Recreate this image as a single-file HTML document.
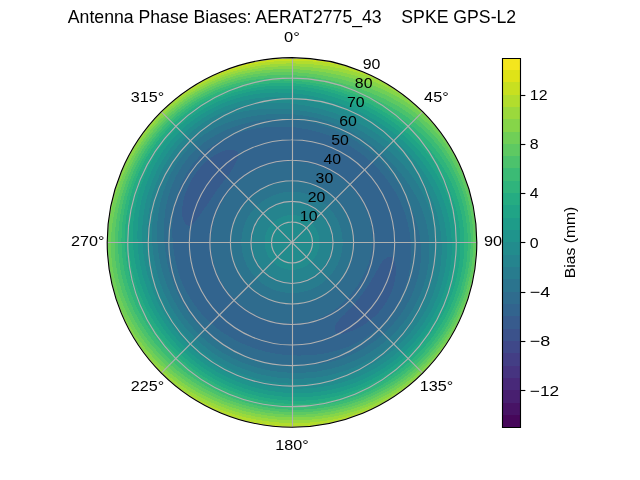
<!DOCTYPE html>
<html><head><meta charset="utf-8"><style>html,body{margin:0;padding:0;background:#fff;width:640px;height:480px;overflow:hidden}svg{display:block;will-change:transform}text{white-space:pre}</style></head><body>
<svg width="640" height="480" viewBox="0 0 460.8 345.6">
<defs>
<style type="text/css">*{stroke-linejoin: round; stroke-linecap: butt}</style>
</defs>
<g id="figure_1">
<g id="patch_1">
<path d="M 0 345.6
L 460.8 345.6
L 460.8 0
L 0 0
z
" style="fill: #ffffff"/>
</g>
<g id="axes_1">
<g id="patch_2">
<path d="M 343.3 174.53
C 343.3 157.06 339.85 139.75 333.17 123.61
C 326.48 107.47 316.68 92.8 304.32 80.44
C 291.97 68.09 277.3 58.29 261.16 51.6
C 245.02 44.91 227.71 41.47 210.24 41.47
C 192.77 41.47 175.46 44.91 159.32 51.6
C 143.18 58.29 128.51 68.09 116.16 80.44
C 103.8 92.8 94 107.47 87.31 123.61
C 80.63 139.75 77.18 157.06 77.18 174.53
C 77.18 192 80.63 209.3 87.31 225.45
C 94 241.59 103.8 256.26 116.16 268.61
C 128.51 280.97 143.18 290.77 159.32 297.46
C 175.46 304.14 192.77 307.58 210.24 307.58
C 227.71 307.58 245.02 304.14 261.16 297.46
C 277.3 290.77 291.97 280.97 304.32 268.61
C 316.68 256.26 326.48 241.59 333.17 225.45
C 339.85 209.3 343.3 192 343.3 174.53
M 210.24 174.53
C 210.24 174.53 210.24 174.53 210.24 174.53
C 210.24 174.53 210.24 174.53 210.24 174.53
C 210.24 174.53 210.24 174.53 210.24 174.53
C 210.24 174.53 210.24 174.53 210.24 174.53
C 210.24 174.53 210.24 174.53 210.24 174.53
C 210.24 174.53 210.24 174.53 210.24 174.53
C 210.24 174.53 210.24 174.53 210.24 174.53
C 210.24 174.53 210.24 174.53 210.24 174.53
C 210.24 174.53 210.24 174.53 210.24 174.53
C 210.24 174.53 210.24 174.53 210.24 174.53
C 210.24 174.53 210.24 174.53 210.24 174.53
C 210.24 174.53 210.24 174.53 210.24 174.53
C 210.24 174.53 210.24 174.53 210.24 174.53
C 210.24 174.53 210.24 174.53 210.24 174.53
C 210.24 174.53 210.24 174.53 210.24 174.53
C 210.24 174.53 210.24 174.53 210.24 174.53
z
" style="fill: #ffffff"/>
</g>
<g id="QuadContourSet_1">
<path clip-path="url(#pe13cb6048f)" style="fill: #46075a; shape-rendering: crispEdges"/>
<path clip-path="url(#pe13cb6048f)" style="fill: #471365; shape-rendering: crispEdges"/>
<path clip-path="url(#pe13cb6048f)" style="fill: #481f70; shape-rendering: crispEdges"/>
<path clip-path="url(#pe13cb6048f)" style="fill: #482979; shape-rendering: crispEdges"/>
<path clip-path="url(#pe13cb6048f)" style="fill: #463480; shape-rendering: crispEdges"/>
<path clip-path="url(#pe13cb6048f)" style="fill: #433e85; shape-rendering: crispEdges"/>
<path clip-path="url(#pe13cb6048f)" style="fill: #3f4889; shape-rendering: crispEdges"/>
<path clip-path="url(#pe13cb6048f)" style="fill: #3b528b; shape-rendering: crispEdges"/>
<path d="M 268.21 200.34
L 266.5 203.19
L 264.73 205.99
L 262.9 208.72
L 261 211.4
L 259.02 214.03
L 256.98 216.61
L 254.85 219.14
L 252.64 221.62
L 251.26 223.09
L 250.35 224.06
L 248 226.5
L 245.55 228.89
L 244.61 229.76
L 243.14 231.52
L 241.72 233.14
L 241.12 235.12
L 241.12 235.13
L 240.87 236.9
L 241.18 238.39
L 242.12 239.58
L 243.8 240.39
L 243.8 240.39
L 247.26 240.21
L 248.04 239.99
L 251.97 238.79
L 252.96 238.45
L 255.78 237.21
L 259.48 235.34
L 260.06 235
L 263.03 233.16
L 266.41 230.7
L 269.38 228.15
L 269.59 227.97
L 272.55 224.99
L 275.26 221.77
L 277.69 218.33
L 279.81 214.69
L 281.59 210.88
L 282.51 208.45
L 283.03 206.94
L 284.1 202.88
L 284.76 198.74
L 284.76 198.74
L 284.96 194.55
L 284.91 192.81
L 284.58 190.33
L 284.28 188.76
L 283.22 186.28
L 282.98 186.05
L 281.92 185
L 280.47 184.72
L 278.89 185.3
L 278.78 185.38
L 277.19 186.47
L 275.32 188.36
L 275.31 188.37
L 273.32 191.43
L 272.88 192.08
L 271.6 194.46
L 269.92 197.44
L 268.69 199.53
z
M 151.13 144.41
L 153.06 141.51
L 155.02 138.67
L 157.02 135.86
L 159.07 133.09
L 161.18 130.35
L 163.33 127.62
L 164.29 126.41
L 165.42 124.75
L 167.15 121.91
L 167.36 121.58
L 169.08 118.54
L 169.28 118.16
L 170.48 115.75
L 171.05 114.18
L 171.34 113.41
L 171.76 111.42
L 171.42 109.89
L 170.28 108.85
L 168.47 108.23
L 167.1 108.11
L 166.17 107.96
L 163.47 108.01
L 162.16 108.36
L 159.43 109.16
L 157.9 109.9
L 154.01 112.08
L 152.75 112.92
L 150.4 114.69
L 147.07 117.65
L 144 120.89
L 141.22 124.38
L 138.74 128.1
L 136.57 131.99
L 134.72 136.05
L 133.2 140.23
L 133.03 140.77
L 132.08 144.52
L 131.3 148.88
L 131.14 150.08
L 131.15 153.34
L 131.23 155.31
L 132 157.9
L 132.09 158.21
L 133.16 160.48
L 134.4 161.92
L 135.8 162.53
L 137.35 162.24
L 139.08 160.98
L 140.26 159.65
L 141.04 158.79
L 142.8 156.46
L 143.35 155.71
L 145.02 153.34
L 146.22 151.57
L 147.12 150.3
L 149.17 147.34
L 150.27 145.73
z
" clip-path="url(#pe13cb6048f)" style="fill: #375b8d; shape-rendering: crispEdges"/>
<path d="M 267.1 183.53
L 266.37 186.46
L 265.48 189.33
L 264.46 192.15
L 263.32 194.9
L 262.05 197.6
L 260.68 200.23
L 259.2 202.8
L 257.62 205.3
L 255.95 207.74
L 254.17 210.11
L 252.3 212.4
L 250.34 214.63
L 248.28 216.77
L 246.11 218.83
L 243.85 220.79
L 241.49 222.65
L 239.03 224.39
L 237.83 225.15
L 236.45 225.98
L 233.78 227.41
L 231.03 228.68
L 228.2 229.79
L 225.3 230.73
L 222.35 231.5
L 219.36 232.09
L 216.33 232.52
L 213.29 232.77
L 210.24 232.86
L 207.19 232.78
L 204.14 232.54
L 201.11 232.15
L 198.11 231.59
L 195.14 230.88
L 192.21 230.01
L 189.33 228.99
L 186.51 227.82
L 183.75 226.51
L 181.07 225.05
L 178.46 223.46
L 175.95 221.73
L 173.52 219.87
L 171.2 217.89
L 168.98 215.79
L 166.88 213.57
L 164.9 211.25
L 163.04 208.82
L 161.31 206.3
L 159.71 203.7
L 158.26 201.01
L 156.94 198.26
L 155.78 195.43
L 154.76 192.55
L 153.89 189.63
L 153.18 186.66
L 152.63 183.65
L 152.23 180.63
L 152 177.58
L 151.92 174.53
L 152.01 171.48
L 152.27 168.43
L 152.68 165.41
L 153.26 162.42
L 154 159.46
L 154.89 156.54
L 155.93 153.68
L 157.12 150.88
L 158.44 148.14
L 159.9 145.47
L 161.5 142.87
L 163.21 140.36
L 165.05 137.93
L 167.01 135.6
L 169.09 133.37
L 171.27 131.25
L 173.57 129.25
L 175.98 127.37
L 178.48 125.62
L 181.07 124
L 183.75 122.53
L 186.5 121.21
L 189.32 120.04
L 192.2 119.01
L 195.13 118.15
L 198.1 117.44
L 201.11 116.88
L 204.14 116.49
L 207.19 116.26
L 210.24 116.18
L 210.24 115.39
L 210.24 113.91
L 210.24 112.44
L 210.24 110.96
L 210.24 109.48
L 210.24 108
L 210.24 106.52
L 210.24 105.04
L 210.24 103.56
L 210.24 102.09
L 210.24 100.61
L 210.24 99.13
L 210.24 97.65
L 210.24 96.17
L 210.24 94.69
L 210.24 93.22
L 210.24 91.74
L 210.24 91.54
L 205.88 91.27
L 201.48 91.16
L 197.79 91.18
L 197.05 91.22
L 192.6 91.52
L 188.13 92
L 185.94 92.3
L 183.65 92.69
L 179.18 93.62
L 175.43 94.55
L 174.72 94.75
L 170.3 96.14
L 165.92 97.76
L 165.51 97.93
L 161.65 99.71
L 157.49 101.92
L 153.85 104.15
L 153.46 104.41
L 149.64 107.22
L 146.01 110.3
L 142.62 113.65
L 139.5 117.24
L 136.65 121.06
L 134.1 125.08
L 131.85 129.27
L 130.04 133.29
L 129.91 133.6
L 128.28 138.03
L 126.94 142.55
L 125.95 146.9
L 125.9 147.12
L 125.09 151.71
L 124.54 156.31
L 124.27 159.77
L 124.21 160.9
L 124.07 165.47
L 124.14 170.02
L 124.39 174.53
L 124.51 176.08
L 124.83 179
L 125.47 183.44
L 126.3 187.82
L 127.33 192.15
L 128.56 196.41
L 130 200.6
L 130.92 202.99
L 131.65 204.69
L 133.53 208.68
L 135.61 212.55
L 137.89 216.3
L 140.35 219.92
L 143 223.38
L 145.82 226.69
L 147.16 228.14
L 148.82 229.83
L 151.99 232.78
L 155.29 235.56
L 158.71 238.16
L 162.24 240.59
L 165.88 242.84
L 168.9 244.55
L 169.6 244.92
L 173.4 246.82
L 177.28 248.55
L 181.23 250.1
L 185.24 251.46
L 189.31 252.65
L 193.42 253.65
L 197.58 254.47
L 201.77 255.1
L 205.99 255.56
L 209.98 255.84
L 210.24 255.85
L 214.51 255.98
L 218.8 255.95
L 223.1 255.74
L 227.42 255.37
L 228.75 255.22
L 231.75 254.79
L 236.06 254
L 240.37 253.02
L 241.9 252.62
L 244.64 251.8
L 248.87 250.34
L 253.03 248.64
L 254.48 247.98
L 257.1 246.68
L 261.06 244.48
L 264.89 242.02
L 268.58 239.32
L 269.09 238.91
L 272.09 236.38
L 275.4 233.2
L 278.51 229.81
L 281.39 226.22
L 284.04 222.45
L 286.43 218.52
L 288.57 214.44
L 290.44 210.24
L 292.04 205.93
L 293.37 201.54
L 294.14 198.38
L 294.43 197.09
L 295.22 192.59
L 295.75 188.07
L 296.03 183.54
L 296.04 179.02
L 295.96 176.76
L 295.81 174.53
L 295.34 170.07
L 294.64 165.66
L 293.73 161.31
L 292.85 157.89
L 292.59 157.02
L 291.22 152.83
L 289.66 148.72
L 287.92 144.71
L 286 140.8
L 284.9 138.75
L 283.86 137.02
L 281.53 133.37
L 279.04 129.85
L 276.42 126.45
L 273.65 123.18
L 270.76 120.04
L 268.06 117.36
L 267.72 117.04
L 264.55 114.21
L 261.26 111.52
L 257.87 108.98
L 254.36 106.59
L 250.75 104.36
L 247.05 102.29
L 243.25 100.39
L 239.36 98.66
L 238 98.1
L 235.39 97.12
L 231.35 95.75
L 227.24 94.57
L 223.07 93.55
L 218.84 92.7
L 214.56 92.02
L 212.76 91.78
L 210.24 91.54
L 210.24 91.74
L 210.24 93.22
L 210.24 94.69
L 210.24 96.17
L 210.24 97.65
L 210.24 99.13
L 210.24 100.61
L 210.24 102.09
L 210.24 103.56
L 210.24 105.04
L 210.24 106.52
L 210.24 108
L 210.24 109.48
L 210.24 110.96
L 210.24 112.44
L 210.24 113.91
L 210.24 115.39
L 210.24 116.18
L 213.29 116.26
L 216.34 116.51
L 219.37 116.91
L 222.37 117.47
L 225.34 118.18
L 228.27 119.05
L 231.15 120.06
L 233.97 121.23
L 236.73 122.55
L 239.41 124
L 242.02 125.6
L 244.53 127.33
L 246.96 129.18
L 249.28 131.17
L 251.5 133.27
L 253.6 135.49
L 255.58 137.81
L 257.44 140.23
L 259.17 142.75
L 260.76 145.36
L 262.22 148.04
L 263.53 150.8
L 264.69 153.63
L 265.7 156.51
L 266.55 159.44
L 267.23 162.41
L 267.75 165.42
L 268.09 168.45
L 268.25 171.49
L 268.23 174.53
L 268.03 177.56
L 267.66 180.56
L 267.42 181.97
z
M 268.69 199.53
L 269.92 197.44
L 271.6 194.46
L 272.88 192.08
L 273.32 191.43
L 275.31 188.37
L 275.32 188.36
L 277.19 186.47
L 278.78 185.38
L 278.89 185.3
L 280.47 184.72
L 281.92 185
L 282.98 186.05
L 283.22 186.28
L 284.28 188.76
L 284.58 190.33
L 284.91 192.81
L 284.96 194.55
L 284.76 198.74
L 284.76 198.74
L 284.1 202.88
L 283.03 206.94
L 282.51 208.45
L 281.59 210.88
L 279.81 214.69
L 277.69 218.33
L 275.26 221.77
L 272.55 224.99
L 269.59 227.97
L 269.38 228.15
L 266.41 230.7
L 263.03 233.16
L 260.06 235
L 259.48 235.34
L 255.78 237.21
L 252.96 238.45
L 251.97 238.79
L 248.04 239.99
L 247.26 240.21
L 243.8 240.39
L 243.8 240.39
L 242.12 239.58
L 241.18 238.39
L 240.87 236.9
L 241.12 235.13
L 241.12 235.12
L 241.72 233.14
L 243.14 231.52
L 244.61 229.76
L 245.55 228.89
L 248 226.5
L 250.35 224.06
L 251.26 223.09
L 252.64 221.62
L 254.85 219.14
L 256.98 216.61
L 259.02 214.03
L 261 211.4
L 262.9 208.72
L 264.73 205.99
L 266.5 203.19
L 268.21 200.34
z
M 150.27 145.73
L 149.17 147.34
L 147.12 150.3
L 146.22 151.57
L 145.02 153.34
L 143.35 155.71
L 142.8 156.46
L 141.04 158.79
L 140.26 159.65
L 139.08 160.98
L 137.35 162.24
L 135.8 162.53
L 134.4 161.92
L 133.16 160.48
L 132.09 158.21
L 132 157.9
L 131.23 155.31
L 131.15 153.34
L 131.14 150.08
L 131.3 148.88
L 132.08 144.52
L 133.03 140.77
L 133.2 140.23
L 134.72 136.05
L 136.57 131.99
L 138.74 128.1
L 141.22 124.38
L 144 120.89
L 147.07 117.65
L 150.4 114.69
L 152.75 112.92
L 154.01 112.08
L 157.9 109.9
L 159.43 109.16
L 162.16 108.36
L 163.47 108.01
L 166.17 107.96
L 167.1 108.11
L 168.47 108.23
L 170.28 108.85
L 171.42 109.89
L 171.76 111.42
L 171.34 113.41
L 171.05 114.18
L 170.48 115.75
L 169.28 118.16
L 169.08 118.54
L 167.36 121.58
L 167.15 121.91
L 165.42 124.75
L 164.29 126.41
L 163.33 127.62
L 161.18 130.35
L 159.07 133.09
L 157.02 135.86
L 155.02 138.67
L 153.06 141.51
L 151.13 144.41
z
" clip-path="url(#pe13cb6048f)" style="fill: #32648e; shape-rendering: crispEdges"/>
<path d="M 212.56 130.24
L 214.88 130.42
L 217.18 130.72
L 219.46 131.15
L 221.72 131.69
L 221.92 131.74
L 223.95 132.35
L 226.13 133.12
L 228.28 134.01
L 230.38 135.01
L 231.24 135.46
L 232.42 136.12
L 234.4 137.33
L 236.31 138.65
L 238.15 140.06
L 239.92 141.57
L 241.6 143.17
L 243.2 144.85
L 244.71 146.62
L 246.12 148.46
L 247.44 150.37
L 248.65 152.35
L 249.76 154.39
L 250.76 156.49
L 251.65 158.63
L 252.42 160.82
L 253.08 163.05
L 253.62 165.31
L 254.05 167.59
L 254.35 169.89
L 254.53 172.21
L 254.59 174.53
L 254.53 176.85
L 254.35 179.16
L 254.04 181.47
L 253.62 183.75
L 253.08 186.01
L 252.42 188.23
L 251.64 190.42
L 250.75 192.57
L 249.75 194.66
L 248.65 196.7
L 247.43 198.68
L 246.12 200.59
L 244.7 202.44
L 243.2 204.2
L 241.6 205.89
L 239.91 207.49
L 238.15 208.99
L 236.31 210.41
L 234.39 211.72
L 232.42 212.94
L 230.37 214.04
L 228.28 215.04
L 226.13 215.93
L 223.95 216.71
L 221.72 217.37
L 219.46 217.91
L 217.18 218.33
L 214.88 218.64
L 212.56 218.82
L 210.24 218.88
L 207.92 218.82
L 205.6 218.64
L 203.3 218.33
L 201.02 217.91
L 198.76 217.37
L 196.53 216.71
L 194.35 215.93
L 192.2 215.05
L 190.1 214.05
L 188.06 212.94
L 186.08 211.72
L 184.17 210.41
L 182.33 209
L 180.56 207.49
L 178.88 205.89
L 177.28 204.21
L 175.77 202.44
L 174.36 200.6
L 173.04 198.68
L 171.83 196.7
L 170.72 194.66
L 169.72 192.57
L 168.83 190.42
L 168.06 188.23
L 167.4 186.01
L 166.86 183.75
L 166.43 181.47
L 166.13 179.16
L 165.95 176.85
L 165.89 174.53
L 165.95 172.21
L 166.13 169.89
L 166.43 167.59
L 166.86 165.31
L 167.4 163.05
L 168.06 160.82
L 168.83 158.63
L 169.72 156.49
L 170.72 154.39
L 171.83 152.35
L 173.04 150.37
L 174.36 148.46
L 175.77 146.62
L 177.28 144.85
L 178.88 143.17
L 180.56 141.57
L 182.33 140.06
L 184.17 138.65
L 186.08 137.33
L 188.06 136.12
L 190.1 135.01
L 192.2 134.01
L 194.35 133.12
L 196.53 132.35
L 198.76 131.69
L 201.02 131.15
L 203.3 130.72
L 205.6 130.42
L 207.92 130.24
L 210.24 130.18
L 210.24 130.18
L 210.24 128.7
L 210.24 127.22
L 210.24 125.74
L 210.24 124.26
L 210.24 122.78
L 210.24 121.31
L 210.24 119.83
L 210.24 118.35
L 210.24 116.87
L 210.24 116.18
L 207.19 116.26
L 204.14 116.49
L 201.11 116.88
L 198.1 117.44
L 195.13 118.15
L 192.2 119.01
L 189.32 120.04
L 186.5 121.21
L 183.75 122.53
L 181.07 124
L 178.48 125.62
L 175.98 127.37
L 173.57 129.25
L 171.27 131.25
L 169.09 133.37
L 167.01 135.6
L 165.05 137.93
L 163.21 140.36
L 161.5 142.87
L 159.9 145.47
L 158.44 148.14
L 157.12 150.88
L 155.93 153.68
L 154.89 156.54
L 154 159.46
L 153.26 162.42
L 152.68 165.41
L 152.27 168.43
L 152.01 171.48
L 151.92 174.53
L 152 177.58
L 152.23 180.63
L 152.63 183.65
L 153.18 186.66
L 153.89 189.63
L 154.76 192.55
L 155.78 195.43
L 156.94 198.26
L 158.26 201.01
L 159.71 203.7
L 161.31 206.3
L 163.04 208.82
L 164.9 211.25
L 166.88 213.57
L 168.98 215.79
L 171.2 217.89
L 173.52 219.87
L 175.95 221.73
L 178.46 223.46
L 181.07 225.05
L 183.75 226.51
L 186.51 227.82
L 189.33 228.99
L 192.21 230.01
L 195.14 230.88
L 198.11 231.59
L 201.11 232.15
L 204.14 232.54
L 207.19 232.78
L 210.24 232.86
L 213.29 232.77
L 216.33 232.52
L 219.36 232.09
L 222.35 231.5
L 225.3 230.73
L 228.2 229.79
L 231.03 228.68
L 233.78 227.41
L 236.45 225.98
L 237.83 225.15
L 239.03 224.39
L 241.49 222.65
L 243.85 220.79
L 246.11 218.83
L 248.28 216.77
L 250.34 214.63
L 252.3 212.4
L 254.17 210.11
L 255.95 207.74
L 257.62 205.3
L 259.2 202.8
L 260.68 200.23
L 262.05 197.6
L 263.32 194.9
L 264.46 192.15
L 265.48 189.33
L 266.37 186.46
L 267.1 183.53
L 267.42 181.97
L 267.66 180.56
L 268.03 177.56
L 268.23 174.53
L 268.25 171.49
L 268.09 168.45
L 267.75 165.42
L 267.23 162.41
L 266.55 159.44
L 265.7 156.51
L 264.69 153.63
L 263.53 150.8
L 262.22 148.04
L 260.76 145.36
L 259.17 142.75
L 257.44 140.23
L 255.58 137.81
L 253.6 135.49
L 251.5 133.27
L 249.28 131.17
L 246.96 129.18
L 244.53 127.33
L 242.02 125.6
L 239.41 124
L 236.73 122.55
L 233.97 121.23
L 231.15 120.06
L 228.27 119.05
L 225.34 118.18
L 222.37 117.47
L 219.37 116.91
L 216.34 116.51
L 213.29 116.26
L 210.24 116.18
L 210.24 116.87
L 210.24 118.35
L 210.24 119.83
L 210.24 121.31
L 210.24 122.78
L 210.24 124.26
L 210.24 125.74
L 210.24 127.22
L 210.24 128.7
L 210.24 130.18
L 210.24 130.18
z
M 239.36 98.66
L 243.25 100.39
L 247.05 102.29
L 250.75 104.36
L 254.36 106.59
L 257.87 108.98
L 261.26 111.52
L 264.55 114.21
L 267.72 117.04
L 268.06 117.36
L 270.76 120.04
L 273.65 123.18
L 276.42 126.45
L 279.04 129.85
L 281.53 133.37
L 283.86 137.02
L 284.9 138.75
L 286 140.8
L 287.92 144.71
L 289.66 148.72
L 291.22 152.83
L 292.59 157.02
L 292.85 157.89
L 293.73 161.31
L 294.64 165.66
L 295.34 170.07
L 295.81 174.53
L 295.96 176.76
L 296.04 179.02
L 296.03 183.54
L 295.75 188.07
L 295.22 192.59
L 294.43 197.09
L 294.14 198.38
L 293.37 201.54
L 292.04 205.93
L 290.44 210.24
L 288.57 214.44
L 286.43 218.52
L 284.04 222.45
L 281.39 226.22
L 278.51 229.81
L 275.4 233.2
L 272.09 236.38
L 269.09 238.91
L 268.58 239.32
L 264.89 242.02
L 261.06 244.48
L 257.1 246.68
L 254.48 247.98
L 253.03 248.64
L 248.87 250.34
L 244.64 251.8
L 241.9 252.62
L 240.37 253.02
L 236.06 254
L 231.75 254.79
L 228.75 255.22
L 227.42 255.37
L 223.1 255.74
L 218.8 255.95
L 214.51 255.98
L 210.24 255.85
L 209.98 255.84
L 205.99 255.56
L 201.77 255.1
L 197.58 254.47
L 193.42 253.65
L 189.31 252.65
L 185.24 251.46
L 181.23 250.1
L 177.28 248.55
L 173.4 246.82
L 169.6 244.92
L 168.9 244.55
L 165.88 242.84
L 162.24 240.59
L 158.71 238.16
L 155.29 235.56
L 151.99 232.78
L 148.82 229.83
L 147.16 228.14
L 145.82 226.69
L 143 223.38
L 140.35 219.92
L 137.89 216.3
L 135.61 212.55
L 133.53 208.68
L 131.65 204.69
L 130.92 202.99
L 130 200.6
L 128.56 196.41
L 127.33 192.15
L 126.3 187.82
L 125.47 183.44
L 124.83 179
L 124.51 176.08
L 124.39 174.53
L 124.14 170.02
L 124.07 165.47
L 124.21 160.9
L 124.27 159.77
L 124.54 156.31
L 125.09 151.71
L 125.9 147.12
L 125.95 146.9
L 126.94 142.55
L 128.28 138.03
L 129.91 133.6
L 130.04 133.29
L 131.85 129.27
L 134.1 125.08
L 136.65 121.06
L 139.5 117.24
L 142.62 113.65
L 146.01 110.3
L 149.64 107.22
L 153.46 104.41
L 153.85 104.15
L 157.49 101.92
L 161.65 99.71
L 165.51 97.93
L 165.92 97.76
L 170.3 96.14
L 174.72 94.75
L 175.43 94.55
L 179.18 93.62
L 183.65 92.69
L 185.94 92.3
L 188.13 92
L 192.6 91.52
L 197.05 91.22
L 197.79 91.18
L 201.48 91.16
L 205.88 91.27
L 210.24 91.54
L 210.24 90.26
L 210.24 88.78
L 210.24 87.3
L 210.24 85.95
L 208.96 85.83
L 205.58 85.65
L 200.89 85.57
L 196.17 85.69
L 194.1 85.8
L 191.44 86.06
L 186.7 86.69
L 181.97 87.54
L 180.36 87.88
L 177.27 88.63
L 172.59 89.97
L 167.96 91.54
L 167.95 91.55
L 163.38 93.37
L 158.89 95.46
L 156.15 96.9
L 154.5 97.81
L 150.24 100.44
L 146.16 103.36
L 142.39 106.48
L 142.28 106.57
L 138.67 110.08
L 135.32 113.86
L 132.26 117.87
L 129.48 122.08
L 127 126.47
L 126.85 126.78
L 124.85 131.02
L 123 135.69
L 121.45 140.44
L 120.19 145.27
L 120.04 145.95
L 119.25 150.15
L 118.59 155.05
L 118.17 159.95
L 118.13 160.72
L 118.03 164.84
L 118.1 169.7
L 118.38 174.53
L 118.62 177.33
L 118.85 179.32
L 119.52 184.06
L 120.38 188.76
L 121.44 193.4
L 122.7 197.98
L 124.17 202.49
L 125.85 206.92
L 127.73 211.26
L 129.83 215.5
L 132.14 219.62
L 132.36 220
L 134.66 223.61
L 137.38 227.46
L 140.31 231.16
L 143.43 234.68
L 146.74 238.03
L 150.23 241.18
L 153.88 244.13
L 157.68 246.87
L 161.62 249.4
L 165.68 251.71
L 169.84 253.81
L 174.1 255.7
L 178.44 257.36
L 179.53 257.75
L 182.86 258.81
L 187.33 260.04
L 191.85 261.07
L 196.4 261.9
L 200.99 262.53
L 205.6 262.97
L 210.22 263.23
L 210.24 263.23
L 214.89 263.29
L 219.56 263.16
L 224.22 262.82
L 228.89 262.28
L 233.55 261.52
L 235.12 261.21
L 238.18 260.51
L 242.76 259.25
L 247.29 257.75
L 251.76 256.01
L 254.38 254.86
L 256.14 254.02
L 260.4 251.77
L 264.55 249.28
L 268.57 246.56
L 272.44 243.61
L 275.24 241.23
L 276.14 240.43
L 279.66 237.04
L 282.99 233.44
L 286.11 229.65
L 289.02 225.69
L 291.7 221.56
L 294.13 217.27
L 296.3 212.85
L 298.2 208.29
L 299.82 203.63
L 301.13 198.88
L 302.14 194.06
L 302.82 189.19
L 303.17 184.29
L 303.2 180.33
L 303.18 179.4
L 302.83 174.53
L 302.15 169.71
L 301.57 166.74
L 301.17 164.97
L 299.92 160.32
L 298.48 155.92
L 298.43 155.78
L 296.77 151.34
L 294.91 147.02
L 293.68 144.43
L 292.89 142.8
L 290.75 138.68
L 288.43 134.69
L 285.95 130.82
L 284.26 128.38
L 283.32 127.07
L 280.54 123.45
L 277.62 119.97
L 274.55 116.63
L 271.34 113.43
L 268 110.38
L 264.52 107.49
L 260.93 104.76
L 257.21 102.2
L 253.38 99.81
L 249.44 97.59
L 245.4 95.55
L 241.27 93.69
L 237.05 92.02
L 232.75 90.53
L 228.37 89.23
L 228.08 89.15
L 223.93 88.12
L 219.42 87.21
L 214.85 86.49
L 210.24 85.95
L 210.24 87.3
L 210.24 88.78
L 210.24 90.26
L 210.24 91.54
L 212.76 91.78
L 214.56 92.02
L 218.84 92.7
L 223.07 93.55
L 227.24 94.57
L 231.35 95.75
L 235.39 97.12
L 238 98.1
z
" clip-path="url(#pe13cb6048f)" style="fill: #2f6c8e; shape-rendering: crispEdges"/>
<path d="M 212.15 138.13
L 214.05 138.28
L 215.94 138.53
L 217.82 138.87
L 219.67 139.32
L 221.5 139.86
L 223.3 140.5
L 225.07 141.23
L 226.79 142.05
L 228.46 142.96
L 230.09 143.96
L 231.66 145.04
L 233.18 146.2
L 234.63 147.44
L 236.01 148.75
L 237.33 150.14
L 238.57 151.59
L 239.73 153.1
L 240.81 154.68
L 241.81 156.3
L 242.72 157.98
L 243.54 159.7
L 244.27 161.47
L 244.91 163.26
L 245.45 165.09
L 245.89 166.95
L 246.24 168.83
L 246.49 170.72
L 246.64 172.62
L 246.69 174.53
L 246.64 176.44
L 246.49 178.34
L 246.24 180.23
L 245.89 182.11
L 245.45 183.96
L 244.91 185.79
L 244.27 187.59
L 243.54 189.35
L 242.72 191.08
L 241.81 192.75
L 240.81 194.38
L 239.73 195.95
L 238.57 197.47
L 237.33 198.92
L 236.01 200.3
L 234.63 201.62
L 233.18 202.85
L 231.66 204.02
L 230.09 205.1
L 228.46 206.09
L 226.79 207
L 225.07 207.83
L 223.3 208.56
L 221.5 209.19
L 219.67 209.74
L 217.82 210.18
L 215.94 210.53
L 214.05 210.78
L 212.15 210.93
L 210.24 210.98
L 208.33 210.93
L 206.43 210.78
L 204.54 210.53
L 202.66 210.18
L 200.81 209.74
L 198.98 209.19
L 197.18 208.56
L 195.41 207.83
L 193.69 207
L 192.02 206.09
L 190.39 205.1
L 188.82 204.02
L 187.3 202.85
L 185.85 201.62
L 184.47 200.3
L 183.15 198.92
L 181.91 197.47
L 180.75 195.95
L 179.67 194.38
L 178.67 192.75
L 177.76 191.08
L 176.94 189.35
L 176.21 187.59
L 175.57 185.79
L 175.03 183.96
L 174.59 182.11
L 174.24 180.23
L 173.99 178.34
L 173.84 176.44
L 173.79 174.53
L 173.84 172.62
L 173.99 170.72
L 174.24 168.83
L 174.59 166.95
L 175.03 165.09
L 175.57 163.26
L 176.21 161.47
L 176.94 159.7
L 177.76 157.98
L 178.67 156.3
L 179.67 154.68
L 180.75 153.1
L 181.91 151.59
L 183.15 150.14
L 184.47 148.75
L 185.85 147.44
L 187.3 146.2
L 188.82 145.04
L 190.39 143.96
L 192.02 142.96
L 193.69 142.05
L 195.41 141.23
L 197.18 140.5
L 198.98 139.86
L 200.81 139.32
L 202.66 138.87
L 204.54 138.53
L 206.43 138.28
L 208.33 138.13
L 210.24 138.08
L 210.24 137.57
L 210.24 136.09
L 210.24 134.61
L 210.24 133.13
L 210.24 131.65
L 210.24 130.18
L 207.92 130.24
L 205.6 130.42
L 203.3 130.72
L 201.02 131.15
L 198.76 131.69
L 196.53 132.35
L 194.35 133.12
L 192.2 134.01
L 190.1 135.01
L 188.06 136.12
L 186.08 137.33
L 184.17 138.65
L 182.33 140.06
L 180.56 141.57
L 178.88 143.17
L 177.28 144.85
L 175.77 146.62
L 174.36 148.46
L 173.04 150.37
L 171.83 152.35
L 170.72 154.39
L 169.72 156.49
L 168.83 158.63
L 168.06 160.82
L 167.4 163.05
L 166.86 165.31
L 166.43 167.59
L 166.13 169.89
L 165.95 172.21
L 165.89 174.53
L 165.95 176.85
L 166.13 179.16
L 166.43 181.47
L 166.86 183.75
L 167.4 186.01
L 168.06 188.23
L 168.83 190.42
L 169.72 192.57
L 170.72 194.66
L 171.83 196.7
L 173.04 198.68
L 174.36 200.6
L 175.77 202.44
L 177.28 204.21
L 178.88 205.89
L 180.56 207.49
L 182.33 209
L 184.17 210.41
L 186.08 211.72
L 188.06 212.94
L 190.1 214.05
L 192.2 215.05
L 194.35 215.93
L 196.53 216.71
L 198.76 217.37
L 201.02 217.91
L 203.3 218.33
L 205.6 218.64
L 207.92 218.82
L 210.24 218.88
L 212.56 218.82
L 214.88 218.64
L 217.18 218.33
L 219.46 217.91
L 221.72 217.37
L 223.95 216.71
L 226.13 215.93
L 228.28 215.04
L 230.37 214.04
L 232.42 212.94
L 234.39 211.72
L 236.31 210.41
L 238.15 208.99
L 239.91 207.49
L 241.6 205.89
L 243.2 204.2
L 244.7 202.44
L 246.12 200.59
L 247.43 198.68
L 248.65 196.7
L 249.75 194.66
L 250.75 192.57
L 251.64 190.42
L 252.42 188.23
L 253.08 186.01
L 253.62 183.75
L 254.04 181.47
L 254.35 179.16
L 254.53 176.85
L 254.59 174.53
L 254.53 172.21
L 254.35 169.89
L 254.05 167.59
L 253.62 165.31
L 253.08 163.05
L 252.42 160.82
L 251.65 158.63
L 250.76 156.49
L 249.76 154.39
L 248.65 152.35
L 247.44 150.37
L 246.12 148.46
L 244.71 146.62
L 243.2 144.85
L 241.6 143.17
L 239.92 141.57
L 238.15 140.06
L 236.31 138.65
L 234.4 137.33
L 232.42 136.12
L 231.24 135.46
L 230.38 135.01
L 228.28 134.01
L 226.13 133.12
L 223.95 132.35
L 221.92 131.74
L 221.72 131.69
L 219.46 131.15
L 217.18 130.72
L 214.88 130.42
L 212.56 130.24
L 210.24 130.18
L 210.24 131.65
L 210.24 133.13
L 210.24 134.61
L 210.24 136.09
L 210.24 137.57
L 210.24 138.08
z
M 228.37 89.23
L 232.75 90.53
L 237.05 92.02
L 241.27 93.69
L 245.4 95.55
L 249.44 97.59
L 253.38 99.81
L 257.21 102.2
L 260.93 104.76
L 264.52 107.49
L 268 110.38
L 271.34 113.43
L 274.55 116.63
L 277.62 119.97
L 280.54 123.45
L 283.32 127.07
L 284.26 128.38
L 285.95 130.82
L 288.43 134.69
L 290.75 138.68
L 292.89 142.8
L 293.68 144.43
L 294.91 147.02
L 296.77 151.34
L 298.43 155.78
L 298.48 155.92
L 299.92 160.32
L 301.17 164.97
L 301.57 166.74
L 302.15 169.71
L 302.83 174.53
L 303.18 179.4
L 303.2 180.33
L 303.17 184.29
L 302.82 189.19
L 302.14 194.06
L 301.13 198.88
L 299.82 203.63
L 298.2 208.29
L 296.3 212.85
L 294.13 217.27
L 291.7 221.56
L 289.02 225.69
L 286.11 229.65
L 282.99 233.44
L 279.66 237.04
L 276.14 240.43
L 275.24 241.23
L 272.44 243.61
L 268.57 246.56
L 264.55 249.28
L 260.4 251.77
L 256.14 254.02
L 254.38 254.86
L 251.76 256.01
L 247.29 257.75
L 242.76 259.25
L 238.18 260.51
L 235.12 261.21
L 233.55 261.52
L 228.89 262.28
L 224.22 262.82
L 219.56 263.16
L 214.89 263.29
L 210.24 263.23
L 210.22 263.23
L 205.6 262.97
L 200.99 262.53
L 196.4 261.9
L 191.85 261.07
L 187.33 260.04
L 182.86 258.81
L 179.53 257.75
L 178.44 257.36
L 174.1 255.7
L 169.84 253.81
L 165.68 251.71
L 161.62 249.4
L 157.68 246.87
L 153.88 244.13
L 150.23 241.18
L 146.74 238.03
L 143.43 234.68
L 140.31 231.16
L 137.38 227.46
L 134.66 223.61
L 132.36 220
L 132.14 219.62
L 129.83 215.5
L 127.73 211.26
L 125.85 206.92
L 124.17 202.49
L 122.7 197.98
L 121.44 193.4
L 120.38 188.76
L 119.52 184.06
L 118.85 179.32
L 118.62 177.33
L 118.38 174.53
L 118.1 169.7
L 118.03 164.84
L 118.13 160.72
L 118.17 159.95
L 118.59 155.05
L 119.25 150.15
L 120.04 145.95
L 120.19 145.27
L 121.45 140.44
L 123 135.69
L 124.85 131.02
L 126.85 126.78
L 127 126.47
L 129.48 122.08
L 132.26 117.87
L 135.32 113.86
L 138.67 110.08
L 142.28 106.57
L 142.39 106.48
L 146.16 103.36
L 150.24 100.44
L 154.5 97.81
L 156.15 96.9
L 158.89 95.46
L 163.38 93.37
L 167.95 91.55
L 167.96 91.54
L 172.59 89.97
L 177.27 88.63
L 180.36 87.88
L 181.97 87.54
L 186.7 86.69
L 191.44 86.06
L 194.1 85.8
L 196.17 85.69
L 200.89 85.57
L 205.58 85.65
L 208.96 85.83
L 210.24 85.95
L 210.24 85.82
L 210.24 84.35
L 210.24 82.87
L 210.24 82.25
L 205.39 81.99
L 200.51 81.95
L 199.99 81.95
L 195.6 82.11
L 190.68 82.49
L 186.19 83.02
L 185.74 83.08
L 180.78 83.85
L 175.82 84.87
L 175.4 84.97
L 170.86 86.09
L 165.98 87.57
L 165.94 87.58
L 161.08 89.38
L 156.32 91.5
L 155.93 91.69
L 151.71 93.97
L 147.28 96.78
L 143.06 99.92
L 140.84 101.8
L 139.08 103.37
L 135.37 107.12
L 131.94 111.12
L 128.79 115.35
L 125.92 119.77
L 125.77 120.01
L 123.35 124.36
L 121.07 129.09
L 119.08 133.94
L 117.37 138.88
L 115.95 143.89
L 115.64 145.16
L 114.83 148.96
L 113.99 154.07
L 113.42 159.19
L 113.11 164.32
L 113.07 165.61
L 113.1 169.44
L 113.33 174.53
L 113.8 179.58
L 114.5 184.59
L 115.06 187.74
L 115.44 189.54
L 116.62 194.43
L 118.02 199.24
L 119.64 203.96
L 121.48 208.6
L 123.54 213.13
L 125.81 217.55
L 128.29 221.84
L 128.49 222.17
L 130.98 226
L 133.87 230.02
L 136.95 233.87
L 140.23 237.57
L 143.68 241.08
L 147.32 244.41
L 151.11 247.54
L 155.07 250.47
L 159.16 253.19
L 163.38 255.69
L 167.72 257.97
L 172.17 260.03
L 176.71 261.87
L 181.34 263.48
L 186.03 264.86
L 190.79 266.02
L 195.6 266.95
L 200.45 267.65
L 205.33 268.14
L 210.24 268.4
L 215.16 268.44
L 220.09 268.25
L 225.02 267.83
L 227.9 267.48
L 229.93 267.18
L 234.82 266.27
L 239.68 265.13
L 244.48 263.73
L 249.23 262.09
L 252.91 260.63
L 253.9 260.21
L 258.48 258.08
L 262.96 255.71
L 267.32 253.1
L 271.56 250.25
L 273.32 248.97
L 275.65 247.18
L 279.58 243.87
L 283.33 240.34
L 286.89 236.6
L 290.24 232.65
L 292.51 229.69
L 293.36 228.51
L 296.24 224.18
L 298.86 219.68
L 301.2 215.03
L 303.27 210.24
L 305.04 205.33
L 306.51 200.32
L 307.66 195.24
L 308.5 190.09
L 309.02 184.91
L 309.21 179.71
L 309.21 178.64
L 309.06 174.53
L 308.57 169.37
L 307.75 164.28
L 306.63 159.26
L 306.59 159.13
L 305.15 154.35
L 303.4 149.57
L 302.28 146.91
L 301.36 144.92
L 299.05 140.44
L 297.14 137.1
L 296.53 136.11
L 293.8 131.95
L 290.92 127.95
L 290.82 127.82
L 287.89 124.1
L 284.74 120.4
L 281.5 116.88
L 281.47 116.85
L 278.09 113.43
L 274.6 110.17
L 271 107.05
L 267.29 104.08
L 263.46 101.28
L 259.52 98.64
L 255.48 96.17
L 251.33 93.89
L 247.08 91.79
L 242.73 89.88
L 238.3 88.17
L 233.78 86.67
L 229.19 85.36
L 224.54 84.26
L 219.82 83.37
L 219.81 83.37
L 215.05 82.7
L 210.24 82.25
L 210.24 82.87
L 210.24 84.35
L 210.24 85.82
L 210.24 85.95
L 214.85 86.49
L 219.42 87.21
L 223.93 88.12
L 228.08 89.15
z
" clip-path="url(#pe13cb6048f)" style="fill: #2b748e; shape-rendering: crispEdges"/>
<path d="M 211.74 145.89
L 213.24 146
L 214.73 146.2
L 216.2 146.47
L 217.66 146.82
L 219.1 147.25
L 220.52 147.75
L 221.91 148.33
L 223.26 148.97
L 224.58 149.69
L 225.86 150.47
L 227.1 151.32
L 228.29 152.24
L 229.43 153.21
L 230.52 154.25
L 231.55 155.34
L 232.53 156.48
L 233.44 157.67
L 234.29 158.91
L 235.08 160.19
L 235.79 161.51
L 236.44 162.86
L 237.02 164.25
L 237.52 165.67
L 237.94 167.1
L 238.29 168.56
L 238.57 170.04
L 238.76 171.53
L 238.88 173.03
L 238.92 174.53
L 238.88 176.03
L 238.76 177.53
L 238.57 179.01
L 238.29 180.49
L 237.94 181.95
L 237.52 183.39
L 237.02 184.81
L 236.44 186.19
L 235.79 187.55
L 235.08 188.87
L 234.29 190.15
L 233.44 191.39
L 232.53 192.58
L 231.55 193.72
L 230.52 194.81
L 229.43 195.84
L 228.29 196.82
L 227.1 197.73
L 225.86 198.58
L 224.58 199.37
L 223.26 200.08
L 221.91 200.73
L 220.52 201.3
L 219.1 201.81
L 217.66 202.23
L 216.2 202.58
L 214.73 202.86
L 213.24 203.05
L 211.74 203.17
L 210.24 203.21
L 208.74 203.17
L 207.24 203.05
L 205.75 202.86
L 204.28 202.58
L 202.82 202.23
L 201.38 201.81
L 199.96 201.3
L 198.57 200.73
L 197.22 200.08
L 195.9 199.37
L 194.62 198.58
L 193.38 197.73
L 192.19 196.82
L 191.05 195.84
L 189.96 194.81
L 188.93 193.72
L 187.95 192.58
L 187.04 191.39
L 186.19 190.15
L 185.4 188.87
L 184.69 187.55
L 184.04 186.19
L 183.46 184.81
L 182.96 183.39
L 182.54 181.95
L 182.19 180.49
L 181.91 179.01
L 181.72 177.53
L 181.6 176.03
L 181.56 174.53
L 181.6 173.03
L 181.72 171.53
L 181.91 170.04
L 182.19 168.56
L 182.54 167.1
L 182.96 165.67
L 183.46 164.25
L 184.04 162.86
L 184.69 161.51
L 185.4 160.19
L 186.19 158.91
L 187.04 157.67
L 187.95 156.48
L 188.93 155.34
L 189.96 154.25
L 191.05 153.21
L 192.19 152.24
L 193.38 151.32
L 194.62 150.47
L 195.9 149.69
L 197.22 148.97
L 198.57 148.33
L 199.96 147.75
L 201.38 147.25
L 202.82 146.82
L 204.28 146.47
L 205.75 146.2
L 207.24 146
L 208.74 145.89
L 210.24 145.85
L 210.24 144.96
L 210.24 143.48
L 210.24 142
L 210.24 140.52
L 210.24 139.05
L 210.24 138.08
L 208.33 138.13
L 206.43 138.28
L 204.54 138.53
L 202.66 138.87
L 200.81 139.32
L 198.98 139.86
L 197.18 140.5
L 195.41 141.23
L 193.69 142.05
L 192.02 142.96
L 190.39 143.96
L 188.82 145.04
L 187.3 146.2
L 185.85 147.44
L 184.47 148.75
L 183.15 150.14
L 181.91 151.59
L 180.75 153.1
L 179.67 154.68
L 178.67 156.3
L 177.76 157.98
L 176.94 159.7
L 176.21 161.47
L 175.57 163.26
L 175.03 165.09
L 174.59 166.95
L 174.24 168.83
L 173.99 170.72
L 173.84 172.62
L 173.79 174.53
L 173.84 176.44
L 173.99 178.34
L 174.24 180.23
L 174.59 182.11
L 175.03 183.96
L 175.57 185.79
L 176.21 187.59
L 176.94 189.35
L 177.76 191.08
L 178.67 192.75
L 179.67 194.38
L 180.75 195.95
L 181.91 197.47
L 183.15 198.92
L 184.47 200.3
L 185.85 201.62
L 187.3 202.85
L 188.82 204.02
L 190.39 205.1
L 192.02 206.09
L 193.69 207
L 195.41 207.83
L 197.18 208.56
L 198.98 209.19
L 200.81 209.74
L 202.66 210.18
L 204.54 210.53
L 206.43 210.78
L 208.33 210.93
L 210.24 210.98
L 212.15 210.93
L 214.05 210.78
L 215.94 210.53
L 217.82 210.18
L 219.67 209.74
L 221.5 209.19
L 223.3 208.56
L 225.07 207.83
L 226.79 207
L 228.46 206.09
L 230.09 205.1
L 231.66 204.02
L 233.18 202.85
L 234.63 201.62
L 236.01 200.3
L 237.33 198.92
L 238.57 197.47
L 239.73 195.95
L 240.81 194.38
L 241.81 192.75
L 242.72 191.08
L 243.54 189.35
L 244.27 187.59
L 244.91 185.79
L 245.45 183.96
L 245.89 182.11
L 246.24 180.23
L 246.49 178.34
L 246.64 176.44
L 246.69 174.53
L 246.64 172.62
L 246.49 170.72
L 246.24 168.83
L 245.89 166.95
L 245.45 165.09
L 244.91 163.26
L 244.27 161.47
L 243.54 159.7
L 242.72 157.98
L 241.81 156.3
L 240.81 154.68
L 239.73 153.1
L 238.57 151.59
L 237.33 150.14
L 236.01 148.75
L 234.63 147.44
L 233.18 146.2
L 231.66 145.04
L 230.09 143.96
L 228.46 142.96
L 226.79 142.05
L 225.07 141.23
L 223.3 140.5
L 221.5 139.86
L 219.67 139.32
L 217.82 138.87
L 215.94 138.53
L 214.05 138.28
L 212.15 138.13
L 210.24 138.08
L 210.24 139.05
L 210.24 140.52
L 210.24 142
L 210.24 143.48
L 210.24 144.96
L 210.24 145.85
z
M 219.82 83.37
L 224.54 84.26
L 229.19 85.36
L 233.78 86.67
L 238.3 88.17
L 242.73 89.88
L 247.08 91.79
L 251.33 93.89
L 255.48 96.17
L 259.52 98.64
L 263.46 101.28
L 267.29 104.08
L 271 107.05
L 274.6 110.17
L 278.09 113.43
L 281.47 116.85
L 281.5 116.88
L 284.74 120.4
L 287.89 124.1
L 290.82 127.82
L 290.92 127.95
L 293.8 131.95
L 296.53 136.11
L 297.14 137.1
L 299.05 140.44
L 301.36 144.92
L 302.28 146.91
L 303.4 149.57
L 305.15 154.35
L 306.59 159.13
L 306.63 159.26
L 307.75 164.28
L 308.57 169.37
L 309.06 174.53
L 309.21 178.64
L 309.21 179.71
L 309.02 184.91
L 308.5 190.09
L 307.66 195.24
L 306.51 200.32
L 305.04 205.33
L 303.27 210.24
L 301.2 215.03
L 298.86 219.68
L 296.24 224.18
L 293.36 228.51
L 292.51 229.69
L 290.24 232.65
L 286.89 236.6
L 283.33 240.34
L 279.58 243.87
L 275.65 247.18
L 273.32 248.97
L 271.56 250.25
L 267.32 253.1
L 262.96 255.71
L 258.48 258.08
L 253.9 260.21
L 252.91 260.63
L 249.23 262.09
L 244.48 263.73
L 239.68 265.13
L 234.82 266.27
L 229.93 267.18
L 227.9 267.48
L 225.02 267.83
L 220.09 268.25
L 215.16 268.44
L 210.24 268.4
L 205.33 268.14
L 200.45 267.65
L 195.6 266.95
L 190.79 266.02
L 186.03 264.86
L 181.34 263.48
L 176.71 261.87
L 172.17 260.03
L 167.72 257.97
L 163.38 255.69
L 159.16 253.19
L 155.07 250.47
L 151.11 247.54
L 147.32 244.41
L 143.68 241.08
L 140.23 237.57
L 136.95 233.87
L 133.87 230.02
L 130.98 226
L 128.49 222.17
L 128.29 221.84
L 125.81 217.55
L 123.54 213.13
L 121.48 208.6
L 119.64 203.96
L 118.02 199.24
L 116.62 194.43
L 115.44 189.54
L 115.06 187.74
L 114.5 184.59
L 113.8 179.58
L 113.33 174.53
L 113.1 169.44
L 113.07 165.61
L 113.11 164.32
L 113.42 159.19
L 113.99 154.07
L 114.83 148.96
L 115.64 145.16
L 115.95 143.89
L 117.37 138.88
L 119.08 133.94
L 121.07 129.09
L 123.35 124.36
L 125.77 120.01
L 125.92 119.77
L 128.79 115.35
L 131.94 111.12
L 135.37 107.12
L 139.08 103.37
L 140.84 101.8
L 143.06 99.92
L 147.28 96.78
L 151.71 93.97
L 155.93 91.69
L 156.32 91.5
L 161.08 89.38
L 165.94 87.58
L 165.98 87.57
L 170.86 86.09
L 175.4 84.97
L 175.82 84.87
L 180.78 83.85
L 185.74 83.08
L 186.19 83.02
L 190.68 82.49
L 195.6 82.11
L 199.99 81.95
L 200.51 81.95
L 205.39 81.99
L 210.24 82.25
L 210.24 81.39
L 210.24 79.91
L 210.24 78.89
L 205.34 78.56
L 205.21 78.55
L 200.13 78.33
L 195 78.31
L 193.9 78.33
L 189.82 78.47
L 184.61 78.87
L 184.48 78.88
L 179.37 79.53
L 175.34 80.25
L 174.15 80.5
L 168.96 81.82
L 165.17 83.02
L 163.85 83.49
L 158.85 85.52
L 153.98 87.9
L 151.95 89.02
L 149.28 90.62
L 144.76 93.67
L 140.47 97.04
L 136.4 100.69
L 132.6 104.62
L 129.08 108.8
L 125.84 113.21
L 122.89 117.8
L 120.23 122.56
L 117.87 127.47
L 116.65 130.36
L 115.82 132.49
L 114.06 137.61
L 112.6 142.8
L 111.43 148.05
L 110.7 152.22
L 110.53 153.33
L 109.91 158.64
L 109.56 163.95
L 109.48 169.25
L 109.64 174.53
L 109.72 175.76
L 110.06 179.78
L 110.73 184.99
L 111.65 190.14
L 112.81 195.24
L 114.22 200.26
L 115.87 205.19
L 117.76 210.03
L 117.8 210.11
L 119.9 214.75
L 122.26 219.36
L 124.84 223.83
L 127.64 228.17
L 130.66 232.35
L 133.88 236.37
L 137.29 240.21
L 140.9 243.87
L 144.68 247.34
L 148.63 250.61
L 152.74 253.67
L 157 256.51
L 161.39 259.14
L 165.9 261.55
L 170.53 263.73
L 175.25 265.67
L 180.07 267.39
L 184.96 268.86
L 189.93 270.1
L 194.94 271.1
L 200.01 271.85
L 205.11 272.37
L 210.24 272.64
L 215.38 272.68
L 220.53 272.47
L 225.68 272.02
L 230.82 271.33
L 232.52 271.04
L 235.92 270.38
L 240.99 269.18
L 246.02 267.73
L 250.98 266.04
L 255.88 264.09
L 256.01 264.04
L 260.68 261.89
L 265.38 259.43
L 269.96 256.73
L 274.42 253.78
L 274.83 253.49
L 278.7 250.57
L 282.82 247.11
L 286.75 243.42
L 290.47 239.5
L 293.93 235.4
L 293.97 235.36
L 297.21 231.01
L 300.21 226.47
L 302.93 221.76
L 305.38 216.89
L 307.54 211.88
L 309.39 206.75
L 310.94 201.51
L 312.16 196.19
L 313.05 190.81
L 313.61 185.39
L 313.83 179.96
L 313.73 174.76
L 313.72 174.53
L 313.26 169.13
L 312.47 163.78
L 311.37 158.51
L 310.19 154.12
L 309.95 153.33
L 308.23 148.27
L 306.23 143.34
L 304.58 139.79
L 303.95 138.55
L 301.41 133.94
L 298.62 129.5
L 297.96 128.52
L 295.6 125.25
L 292.37 121.19
L 290.41 118.9
L 288.97 117.33
L 285.41 113.65
L 281.72 110.16
L 281 109.51
L 277.92 106.85
L 274 103.71
L 269.99 100.74
L 265.88 97.95
L 265.15 97.47
L 261.68 95.32
L 257.38 92.88
L 253 90.61
L 248.53 88.53
L 243.97 86.65
L 239.35 84.95
L 234.64 83.46
L 229.87 82.16
L 225.32 81.12
L 225.04 81.06
L 220.16 80.15
L 215.22 79.42
L 210.24 78.89
L 210.24 79.91
L 210.24 81.39
L 210.24 82.25
L 215.05 82.7
L 219.81 83.37
z
" clip-path="url(#pe13cb6048f)" style="fill: #287c8e; shape-rendering: crispEdges"/>
<path d="M 211.27 154.82
L 212.3 154.9
L 213.33 155.03
L 214.34 155.22
L 215.35 155.46
L 216.34 155.76
L 217.31 156.1
L 218.27 156.5
L 219.2 156.94
L 220.11 157.43
L 220.99 157.97
L 221.84 158.56
L 222.66 159.19
L 223.45 159.86
L 224.2 160.57
L 224.91 161.32
L 225.58 162.11
L 226.21 162.93
L 226.79 163.78
L 227.33 164.66
L 227.83 165.57
L 228.27 166.5
L 228.67 167.45
L 229.01 168.43
L 229.3 169.42
L 229.55 170.42
L 229.73 171.44
L 229.87 172.46
L 229.95 173.5
L 229.98 174.53
L 229.95 175.56
L 229.87 176.59
L 229.73 177.62
L 229.55 178.63
L 229.3 179.64
L 229.01 180.63
L 228.67 181.6
L 228.27 182.56
L 227.83 183.49
L 227.33 184.4
L 226.79 185.28
L 226.21 186.13
L 225.58 186.95
L 224.91 187.73
L 224.2 188.48
L 223.45 189.2
L 222.66 189.87
L 221.84 190.5
L 220.99 191.08
L 220.11 191.62
L 219.2 192.11
L 218.27 192.56
L 217.31 192.95
L 216.34 193.3
L 215.35 193.59
L 214.34 193.83
L 213.33 194.02
L 212.3 194.16
L 211.27 194.24
L 210.24 194.27
L 209.21 194.24
L 208.18 194.16
L 207.15 194.02
L 206.14 193.83
L 205.13 193.59
L 204.14 193.3
L 203.17 192.95
L 202.21 192.56
L 201.28 192.11
L 200.37 191.62
L 199.49 191.08
L 198.64 190.5
L 197.82 189.87
L 197.03 189.2
L 196.28 188.48
L 195.57 187.73
L 194.9 186.95
L 194.27 186.13
L 193.69 185.28
L 193.15 184.4
L 192.65 183.49
L 192.21 182.56
L 191.81 181.6
L 191.47 180.63
L 191.18 179.64
L 190.93 178.63
L 190.75 177.62
L 190.61 176.59
L 190.53 175.56
L 190.5 174.53
L 190.53 173.5
L 190.61 172.46
L 190.75 171.44
L 190.93 170.42
L 191.18 169.42
L 191.47 168.43
L 191.81 167.45
L 192.21 166.5
L 192.65 165.57
L 193.15 164.66
L 193.69 163.78
L 194.27 162.93
L 194.9 162.11
L 195.57 161.32
L 196.28 160.57
L 197.03 159.86
L 197.82 159.19
L 198.64 158.56
L 199.49 157.97
L 200.37 157.43
L 201.28 156.94
L 202.21 156.5
L 203.17 156.1
L 204.14 155.76
L 205.13 155.46
L 206.14 155.22
L 207.15 155.03
L 208.18 154.9
L 209.21 154.82
L 210.24 154.79
L 210.24 153.83
L 210.24 152.35
L 210.24 150.87
L 210.24 149.4
L 210.24 147.92
L 210.24 146.44
L 210.24 145.85
L 208.74 145.89
L 207.24 146
L 205.75 146.2
L 204.28 146.47
L 202.82 146.82
L 201.38 147.25
L 199.96 147.75
L 198.57 148.33
L 197.22 148.97
L 195.9 149.69
L 194.62 150.47
L 193.38 151.32
L 192.19 152.24
L 191.05 153.21
L 189.96 154.25
L 188.93 155.34
L 187.95 156.48
L 187.04 157.67
L 186.19 158.91
L 185.4 160.19
L 184.69 161.51
L 184.04 162.86
L 183.46 164.25
L 182.96 165.67
L 182.54 167.1
L 182.19 168.56
L 181.91 170.04
L 181.72 171.53
L 181.6 173.03
L 181.56 174.53
L 181.6 176.03
L 181.72 177.53
L 181.91 179.01
L 182.19 180.49
L 182.54 181.95
L 182.96 183.39
L 183.46 184.81
L 184.04 186.19
L 184.69 187.55
L 185.4 188.87
L 186.19 190.15
L 187.04 191.39
L 187.95 192.58
L 188.93 193.72
L 189.96 194.81
L 191.05 195.84
L 192.19 196.82
L 193.38 197.73
L 194.62 198.58
L 195.9 199.37
L 197.22 200.08
L 198.57 200.73
L 199.96 201.3
L 201.38 201.81
L 202.82 202.23
L 204.28 202.58
L 205.75 202.86
L 207.24 203.05
L 208.74 203.17
L 210.24 203.21
L 211.74 203.17
L 213.24 203.05
L 214.73 202.86
L 216.2 202.58
L 217.66 202.23
L 219.1 201.81
L 220.52 201.3
L 221.91 200.73
L 223.26 200.08
L 224.58 199.37
L 225.86 198.58
L 227.1 197.73
L 228.29 196.82
L 229.43 195.84
L 230.52 194.81
L 231.55 193.72
L 232.53 192.58
L 233.44 191.39
L 234.29 190.15
L 235.08 188.87
L 235.79 187.55
L 236.44 186.19
L 237.02 184.81
L 237.52 183.39
L 237.94 181.95
L 238.29 180.49
L 238.57 179.01
L 238.76 177.53
L 238.88 176.03
L 238.92 174.53
L 238.88 173.03
L 238.76 171.53
L 238.57 170.04
L 238.29 168.56
L 237.94 167.1
L 237.52 165.67
L 237.02 164.25
L 236.44 162.86
L 235.79 161.51
L 235.08 160.19
L 234.29 158.91
L 233.44 157.67
L 232.53 156.48
L 231.55 155.34
L 230.52 154.25
L 229.43 153.21
L 228.29 152.24
L 227.1 151.32
L 225.86 150.47
L 224.58 149.69
L 223.26 148.97
L 221.91 148.33
L 220.52 147.75
L 219.1 147.25
L 217.66 146.82
L 216.2 146.47
L 214.73 146.2
L 213.24 146
L 211.74 145.89
L 210.24 145.85
L 210.24 146.44
L 210.24 147.92
L 210.24 149.4
L 210.24 150.87
L 210.24 152.35
L 210.24 153.83
L 210.24 154.79
z
M 229.87 82.16
L 234.64 83.46
L 239.35 84.95
L 243.97 86.65
L 248.53 88.53
L 253 90.61
L 257.38 92.88
L 261.68 95.32
L 265.15 97.47
L 265.88 97.95
L 269.99 100.74
L 274 103.71
L 277.92 106.85
L 281 109.51
L 281.72 110.16
L 285.41 113.65
L 288.97 117.33
L 290.41 118.9
L 292.37 121.19
L 295.6 125.25
L 297.96 128.52
L 298.62 129.5
L 301.41 133.94
L 303.95 138.55
L 304.58 139.79
L 306.23 143.34
L 308.23 148.27
L 309.95 153.33
L 310.19 154.12
L 311.37 158.51
L 312.47 163.78
L 313.26 169.13
L 313.72 174.53
L 313.73 174.76
L 313.83 179.96
L 313.61 185.39
L 313.05 190.81
L 312.16 196.19
L 310.94 201.51
L 309.39 206.75
L 307.54 211.88
L 305.38 216.89
L 302.93 221.76
L 300.21 226.47
L 297.21 231.01
L 293.97 235.36
L 293.93 235.4
L 290.47 239.5
L 286.75 243.42
L 282.82 247.11
L 278.7 250.57
L 274.83 253.49
L 274.42 253.78
L 269.96 256.73
L 265.38 259.43
L 260.68 261.89
L 256.01 264.04
L 255.88 264.09
L 250.98 266.04
L 246.02 267.73
L 240.99 269.18
L 235.92 270.38
L 232.52 271.04
L 230.82 271.33
L 225.68 272.02
L 220.53 272.47
L 215.38 272.68
L 210.24 272.64
L 205.11 272.37
L 200.01 271.85
L 194.94 271.1
L 189.93 270.1
L 184.96 268.86
L 180.07 267.39
L 175.25 265.67
L 170.53 263.73
L 165.9 261.55
L 161.39 259.14
L 157 256.51
L 152.74 253.67
L 148.63 250.61
L 144.68 247.34
L 140.9 243.87
L 137.29 240.21
L 133.88 236.37
L 130.66 232.35
L 127.64 228.17
L 124.84 223.83
L 122.26 219.36
L 119.9 214.75
L 117.8 210.11
L 117.76 210.03
L 115.87 205.19
L 114.22 200.26
L 112.81 195.24
L 111.65 190.14
L 110.73 184.99
L 110.06 179.78
L 109.72 175.76
L 109.64 174.53
L 109.48 169.25
L 109.56 163.95
L 109.91 158.64
L 110.53 153.33
L 110.7 152.22
L 111.43 148.05
L 112.6 142.8
L 114.06 137.61
L 115.82 132.49
L 116.65 130.36
L 117.87 127.47
L 120.23 122.56
L 122.89 117.8
L 125.84 113.21
L 129.08 108.8
L 132.6 104.62
L 136.4 100.69
L 140.47 97.04
L 144.76 93.67
L 149.28 90.62
L 151.95 89.02
L 153.98 87.9
L 158.85 85.52
L 163.85 83.49
L 165.17 83.02
L 168.96 81.82
L 174.15 80.5
L 175.34 80.25
L 179.37 79.53
L 184.48 78.88
L 184.61 78.87
L 189.82 78.47
L 193.9 78.33
L 195 78.31
L 200.13 78.33
L 205.21 78.55
L 205.34 78.56
L 210.24 78.89
L 210.24 78.43
L 210.24 76.95
L 210.24 75.48
L 210.24 74.66
L 204.98 74.15
L 204.86 74.14
L 199.66 73.87
L 194.29 73.81
L 194.04 73.81
L 188.89 74.07
L 183.47 74.6
L 183.19 74.64
L 178.06 75.48
L 172.68 76.68
L 171.32 77.05
L 167.37 78.24
L 162.15 80.14
L 157.04 82.38
L 156.58 82.6
L 152.08 84.97
L 147.29 87.88
L 142.68 91.1
L 138.29 94.62
L 134.14 98.42
L 130.24 102.49
L 126.6 106.8
L 123.24 111.32
L 120.17 116.04
L 117.4 120.93
L 114.92 125.96
L 112.74 131.12
L 110.89 136.32
L 110.87 136.38
L 109.31 141.73
L 108.05 147.15
L 107.1 152.6
L 106.44 158.09
L 106.26 160.15
L 106.07 163.58
L 105.98 169.06
L 106.16 174.53
L 106.59 179.96
L 107.28 185.35
L 107.41 186.17
L 108.22 190.69
L 109.41 195.96
L 110.85 201.16
L 112.53 206.27
L 114.47 211.29
L 116.65 216.2
L 119.06 220.99
L 121.71 225.64
L 124.59 230.15
L 127.69 234.5
L 128.54 235.62
L 131.01 238.68
L 134.55 242.68
L 138.28 246.49
L 142.2 250.1
L 146.3 253.49
L 150.56 256.66
L 154.98 259.62
L 159.54 262.34
L 164.23 264.83
L 169.04 267.08
L 173.94 269.09
L 178.94 270.85
L 184.02 272.37
L 189.17 273.65
L 194.38 274.68
L 199.63 275.46
L 204.92 275.99
L 210.24 276.28
L 215.58 276.33
L 217.28 276.29
L 220.92 276.13
L 226.26 275.68
L 231.59 274.97
L 236.9 274.02
L 242.17 272.8
L 244.52 272.17
L 247.4 271.32
L 252.56 269.57
L 257.64 267.56
L 262.64 265.28
L 264.89 264.15
L 267.52 262.73
L 272.27 259.9
L 276.87 256.81
L 281.31 253.46
L 284.33 250.95
L 285.57 249.86
L 289.63 246.01
L 293.47 241.93
L 297.09 237.63
L 300.47 233.12
L 303.59 228.42
L 305.68 224.91
L 306.44 223.55
L 309.01 218.5
L 311.28 213.31
L 313.24 208
L 314.88 202.57
L 316.2 197.05
L 317.17 191.46
L 317.8 185.83
L 318.08 180.18
L 318.08 178.65
L 317.99 174.53
L 317.55 168.9
L 316.76 163.33
L 315.64 157.83
L 314.78 154.48
L 314.19 152.43
L 312.44 147.14
L 310.4 141.98
L 308.83 138.51
L 308.08 136.97
L 305.49 132.12
L 302.65 127.44
L 301.38 125.51
L 299.58 122.95
L 296.27 118.66
L 292.78 114.56
L 292.69 114.46
L 289.08 110.69
L 285.21 107.02
L 282.53 104.66
L 281.2 103.57
L 277.05 100.33
L 272.79 97.29
L 269.15 94.9
L 268.42 94.45
L 263.96 91.8
L 259.42 89.34
L 254.8 87.07
L 250.11 84.98
L 245.35 83.07
L 240.52 81.34
L 235.62 79.79
L 230.67 78.42
L 225.65 77.22
L 220.57 76.2
L 218.46 75.82
L 215.44 75.35
L 210.24 74.66
L 210.24 75.48
L 210.24 76.95
L 210.24 78.43
L 210.24 78.89
L 215.22 79.42
L 220.16 80.15
L 225.04 81.06
L 225.32 81.12
z
" clip-path="url(#pe13cb6048f)" style="fill: #25848e; shape-rendering: crispEdges"/>
<path d="M 210.24 174.53
L 210.24 174.53
L 210.24 174.53
L 210.24 174.53
L 210.24 174.53
L 210.24 174.53
L 210.24 174.53
L 210.24 174.53
L 210.24 174.53
L 210.24 174.53
L 210.24 174.53
L 210.24 174.53
L 210.24 174.53
L 210.24 174.53
L 210.24 174.53
L 210.24 174.53
L 210.24 174.53
L 210.24 174.53
L 210.24 174.53
L 210.24 174.53
L 210.24 174.53
L 210.24 174.53
L 210.24 174.53
L 210.24 174.53
L 210.24 174.53
L 210.24 174.53
L 210.24 174.53
L 210.24 174.53
L 210.24 174.53
L 210.24 174.53
L 210.24 174.53
L 210.24 174.53
L 210.24 174.53
L 210.24 174.53
L 210.24 174.53
L 210.24 174.53
L 210.24 174.53
L 210.24 174.53
L 210.24 174.53
L 210.24 174.53
L 210.24 174.53
L 210.24 174.53
L 210.24 174.53
L 210.24 174.53
L 210.24 174.53
L 210.24 174.53
L 210.24 174.53
L 210.24 174.53
L 210.24 174.53
L 210.24 174.53
L 210.24 174.53
L 210.24 174.53
L 210.24 174.53
L 210.24 174.53
L 210.24 174.53
L 210.24 174.53
L 210.24 174.53
L 210.24 174.53
L 210.24 174.53
L 210.24 174.53
L 210.24 174.53
L 210.24 174.53
L 210.24 174.53
L 210.24 174.53
L 210.24 174.53
L 210.24 174.53
L 210.24 174.53
L 210.24 174.53
L 210.24 174.53
L 210.24 174.53
L 210.24 174.53
L 210.24 174.53
L 210.24 174.53
L 210.24 174.53
L 210.24 174.53
L 210.24 174.53
L 210.24 174.53
L 210.24 174.53
L 210.24 174.53
L 210.24 174.53
L 210.24 174.53
L 210.24 174.53
L 210.24 174.53
L 210.24 174.53
L 210.24 174.53
L 210.24 174.53
L 210.24 174.53
L 210.24 174.53
L 210.24 174.53
L 210.24 174.53
L 210.24 174.53
L 210.24 174.53
L 210.24 174.53
L 210.24 174.53
L 210.24 174.53
L 210.24 174.53
L 210.24 174.53
L 210.24 174.53
L 210.24 174.53
L 210.24 174.53
L 210.24 174.53
L 210.24 174.53
L 210.24 174.53
L 210.24 174.53
L 210.24 174.53
L 210.24 174.53
L 210.24 174.53
L 210.24 174.53
L 210.24 174.53
L 210.24 174.53
L 210.24 174.53
L 210.24 174.53
L 210.24 174.53
L 210.24 174.53
L 210.24 174.53
L 210.24 174.53
L 210.24 174.53
L 210.24 174.53
L 210.24 174.53
L 210.24 174.53
L 210.24 173.05
L 210.24 171.57
L 210.24 170.09
L 210.24 168.61
L 210.24 167.14
L 210.24 165.66
L 210.24 164.18
L 210.24 162.7
L 210.24 161.22
L 210.24 159.74
L 210.24 158.27
L 210.24 156.79
L 210.24 155.31
L 210.24 154.79
L 209.21 154.82
L 208.18 154.9
L 207.15 155.03
L 206.14 155.22
L 205.13 155.46
L 204.14 155.76
L 203.17 156.1
L 202.21 156.5
L 201.28 156.94
L 200.37 157.43
L 199.49 157.97
L 198.64 158.56
L 197.82 159.19
L 197.03 159.86
L 196.28 160.57
L 195.57 161.32
L 194.9 162.11
L 194.27 162.93
L 193.69 163.78
L 193.15 164.66
L 192.65 165.57
L 192.21 166.5
L 191.81 167.45
L 191.47 168.43
L 191.18 169.42
L 190.93 170.42
L 190.75 171.44
L 190.61 172.46
L 190.53 173.5
L 190.5 174.53
L 190.53 175.56
L 190.61 176.59
L 190.75 177.62
L 190.93 178.63
L 191.18 179.64
L 191.47 180.63
L 191.81 181.6
L 192.21 182.56
L 192.65 183.49
L 193.15 184.4
L 193.69 185.28
L 194.27 186.13
L 194.9 186.95
L 195.57 187.73
L 196.28 188.48
L 197.03 189.2
L 197.82 189.87
L 198.64 190.5
L 199.49 191.08
L 200.37 191.62
L 201.28 192.11
L 202.21 192.56
L 203.17 192.95
L 204.14 193.3
L 205.13 193.59
L 206.14 193.83
L 207.15 194.02
L 208.18 194.16
L 209.21 194.24
L 210.24 194.27
L 211.27 194.24
L 212.3 194.16
L 213.33 194.02
L 214.34 193.83
L 215.35 193.59
L 216.34 193.3
L 217.31 192.95
L 218.27 192.56
L 219.2 192.11
L 220.11 191.62
L 220.99 191.08
L 221.84 190.5
L 222.66 189.87
L 223.45 189.2
L 224.2 188.48
L 224.91 187.73
L 225.58 186.95
L 226.21 186.13
L 226.79 185.28
L 227.33 184.4
L 227.83 183.49
L 228.27 182.56
L 228.67 181.6
L 229.01 180.63
L 229.3 179.64
L 229.55 178.63
L 229.73 177.62
L 229.87 176.59
L 229.95 175.56
L 229.98 174.53
L 229.95 173.5
L 229.87 172.46
L 229.73 171.44
L 229.55 170.42
L 229.3 169.42
L 229.01 168.43
L 228.67 167.45
L 228.27 166.5
L 227.83 165.57
L 227.33 164.66
L 226.79 163.78
L 226.21 162.93
L 225.58 162.11
L 224.91 161.32
L 224.2 160.57
L 223.45 159.86
L 222.66 159.19
L 221.84 158.56
L 220.99 157.97
L 220.11 157.43
L 219.2 156.94
L 218.27 156.5
L 217.31 156.1
L 216.34 155.76
L 215.35 155.46
L 214.34 155.22
L 213.33 155.03
L 212.3 154.9
L 211.27 154.82
L 210.24 154.79
L 210.24 155.31
L 210.24 156.79
L 210.24 158.27
L 210.24 159.74
L 210.24 161.22
L 210.24 162.7
L 210.24 164.18
L 210.24 165.66
L 210.24 167.14
L 210.24 168.61
L 210.24 170.09
L 210.24 171.57
L 210.24 173.05
L 210.24 174.53
z
M 220.57 76.2
L 225.65 77.22
L 230.67 78.42
L 235.62 79.79
L 240.52 81.34
L 245.35 83.07
L 250.11 84.98
L 254.8 87.07
L 259.42 89.34
L 263.96 91.8
L 268.42 94.45
L 269.15 94.9
L 272.79 97.29
L 277.05 100.33
L 281.2 103.57
L 282.53 104.66
L 285.21 107.02
L 289.08 110.69
L 292.69 114.46
L 292.78 114.56
L 296.27 118.66
L 299.58 122.95
L 301.38 125.51
L 302.65 127.44
L 305.49 132.12
L 308.08 136.97
L 308.83 138.51
L 310.4 141.98
L 312.44 147.14
L 314.19 152.43
L 314.78 154.48
L 315.64 157.83
L 316.76 163.33
L 317.55 168.9
L 317.99 174.53
L 318.08 178.65
L 318.08 180.18
L 317.8 185.83
L 317.17 191.46
L 316.2 197.05
L 314.88 202.57
L 313.24 208
L 311.28 213.31
L 309.01 218.5
L 306.44 223.55
L 305.68 224.91
L 303.59 228.42
L 300.47 233.12
L 297.09 237.63
L 293.47 241.93
L 289.63 246.01
L 285.57 249.86
L 284.33 250.95
L 281.31 253.46
L 276.87 256.81
L 272.27 259.9
L 267.52 262.73
L 264.89 264.15
L 262.64 265.28
L 257.64 267.56
L 252.56 269.57
L 247.4 271.32
L 244.52 272.17
L 242.17 272.8
L 236.9 274.02
L 231.59 274.97
L 226.26 275.68
L 220.92 276.13
L 217.28 276.29
L 215.58 276.33
L 210.24 276.28
L 204.92 275.99
L 199.63 275.46
L 194.38 274.68
L 189.17 273.65
L 184.02 272.37
L 178.94 270.85
L 173.94 269.09
L 169.04 267.08
L 164.23 264.83
L 159.54 262.34
L 154.98 259.62
L 150.56 256.66
L 146.3 253.49
L 142.2 250.1
L 138.28 246.49
L 134.55 242.68
L 131.01 238.68
L 128.54 235.62
L 127.69 234.5
L 124.59 230.15
L 121.71 225.64
L 119.06 220.99
L 116.65 216.2
L 114.47 211.29
L 112.53 206.27
L 110.85 201.16
L 109.41 195.96
L 108.22 190.69
L 107.41 186.17
L 107.28 185.35
L 106.59 179.96
L 106.16 174.53
L 105.98 169.06
L 106.07 163.58
L 106.26 160.15
L 106.44 158.09
L 107.1 152.6
L 108.05 147.15
L 109.31 141.73
L 110.87 136.38
L 110.89 136.32
L 112.74 131.12
L 114.92 125.96
L 117.4 120.93
L 120.17 116.04
L 123.24 111.32
L 126.6 106.8
L 130.24 102.49
L 134.14 98.42
L 138.29 94.62
L 142.68 91.1
L 147.29 87.88
L 152.08 84.97
L 156.58 82.6
L 157.04 82.38
L 162.15 80.14
L 167.37 78.24
L 171.32 77.05
L 172.68 76.68
L 178.06 75.48
L 183.19 74.64
L 183.47 74.6
L 188.89 74.07
L 194.04 73.81
L 194.29 73.81
L 199.66 73.87
L 204.86 74.14
L 204.98 74.15
L 210.24 74.66
L 210.24 74
L 210.24 72.52
L 210.24 71.04
L 210.24 70.57
L 204.77 70.15
L 200.89 69.98
L 199.25 69.96
L 193.69 70.03
L 188.23 70.38
L 188.11 70.4
L 182.53 71.1
L 176.97 72.13
L 174.48 72.7
L 171.46 73.51
L 166.03 75.23
L 160.7 77.29
L 157.03 78.94
L 155.48 79.69
L 150.42 82.41
L 145.52 85.45
L 140.8 88.78
L 136.3 92.41
L 132.03 96.32
L 128.01 100.49
L 124.26 104.9
L 120.79 109.54
L 117.61 114.37
L 114.72 119.38
L 112.13 124.54
L 109.84 129.83
L 107.85 135.23
L 106.17 140.71
L 106.04 141.18
L 104.8 146.28
L 103.74 151.89
L 102.98 157.54
L 102.53 163.21
L 102.38 168.88
L 102.39 170.52
L 102.53 174.53
L 102.96 180.15
L 103.68 185.73
L 104.67 191.25
L 105.92 196.7
L 107.31 201.66
L 107.44 202.07
L 109.22 207.35
L 111.25 212.53
L 113.52 217.59
L 116.04 222.52
L 118.8 227.32
L 121.79 231.97
L 125 236.46
L 128.44 240.77
L 132.08 244.9
L 135.93 248.84
L 139.98 252.56
L 142.2 254.45
L 144.21 256.07
L 148.61 259.36
L 153.17 262.41
L 157.87 265.23
L 162.71 267.8
L 167.67 270.13
L 172.74 272.22
L 177.9 274.05
L 183.15 275.63
L 188.47 276.96
L 193.85 278.03
L 199.28 278.85
L 201.92 279.16
L 204.74 279.42
L 210.24 279.74
L 215.76 279.8
L 221.28 279.61
L 226.81 279.16
L 232.33 278.45
L 235.8 277.86
L 237.82 277.46
L 243.27 276.19
L 248.67 274.64
L 254 272.81
L 258.98 270.82
L 259.24 270.7
L 264.38 268.3
L 269.4 265.63
L 274.29 262.68
L 279.02 259.47
L 280.49 258.39
L 283.59 255.99
L 287.97 252.25
L 292.15 248.28
L 296.12 244.07
L 299.86 239.64
L 301.31 237.77
L 303.35 235
L 306.59 230.15
L 309.55 225.13
L 312.22 219.93
L 314.6 214.59
L 316.66 209.11
L 318.4 203.51
L 319.8 197.81
L 320.85 192.05
L 321.54 186.23
L 321.87 180.38
L 321.83 174.53
L 321.42 168.7
L 320.64 162.92
L 320.28 160.89
L 319.51 157.22
L 318.03 151.62
L 316.23 146.13
L 314.89 142.63
L 314.12 140.78
L 311.72 135.57
L 309.05 130.53
L 307.79 128.37
L 306.13 125.67
L 302.96 120.99
L 299.58 116.51
L 299.05 115.85
L 295.98 112.24
L 292.19 108.17
L 288.42 104.48
L 288.23 104.31
L 284.09 100.68
L 279.81 97.26
L 275.41 94.05
L 274.61 93.5
L 270.88 91.07
L 266.24 88.3
L 261.51 85.73
L 256.7 83.35
L 251.8 81.17
L 246.84 79.18
L 241.8 77.39
L 236.7 75.78
L 231.53 74.36
L 226.3 73.12
L 221.01 72.07
L 215.65 71.21
L 215.35 71.17
L 210.24 70.57
L 210.24 71.04
L 210.24 72.52
L 210.24 74
L 210.24 74.66
L 215.44 75.35
L 218.46 75.82
z
" clip-path="url(#pe13cb6048f)" style="fill: #228c8d; shape-rendering: crispEdges"/>
<path d="M 215.65 71.21
L 221.01 72.07
L 226.3 73.12
L 231.53 74.36
L 236.7 75.78
L 241.8 77.39
L 246.84 79.18
L 251.8 81.17
L 256.7 83.35
L 261.51 85.73
L 266.24 88.3
L 270.88 91.07
L 274.61 93.5
L 275.41 94.05
L 279.81 97.26
L 284.09 100.68
L 288.23 104.31
L 288.42 104.48
L 292.19 108.17
L 295.98 112.24
L 299.05 115.85
L 299.58 116.51
L 302.96 120.99
L 306.13 125.67
L 307.79 128.37
L 309.05 130.53
L 311.72 135.57
L 314.12 140.78
L 314.89 142.63
L 316.23 146.13
L 318.03 151.62
L 319.51 157.22
L 320.28 160.89
L 320.64 162.92
L 321.42 168.7
L 321.83 174.53
L 321.87 180.38
L 321.54 186.23
L 320.85 192.05
L 319.8 197.81
L 318.4 203.51
L 316.66 209.11
L 314.6 214.59
L 312.22 219.93
L 309.55 225.13
L 306.59 230.15
L 303.35 235
L 301.31 237.77
L 299.86 239.64
L 296.12 244.07
L 292.15 248.28
L 287.97 252.25
L 283.59 255.99
L 280.49 258.39
L 279.02 259.47
L 274.29 262.68
L 269.4 265.63
L 264.38 268.3
L 259.24 270.7
L 258.98 270.82
L 254 272.81
L 248.67 274.64
L 243.27 276.19
L 237.82 277.46
L 235.8 277.86
L 232.33 278.45
L 226.81 279.16
L 221.28 279.61
L 215.76 279.8
L 210.24 279.74
L 204.74 279.42
L 201.92 279.16
L 199.28 278.85
L 193.85 278.03
L 188.47 276.96
L 183.15 275.63
L 177.9 274.05
L 172.74 272.22
L 167.67 270.13
L 162.71 267.8
L 157.87 265.23
L 153.17 262.41
L 148.61 259.36
L 144.21 256.07
L 142.2 254.45
L 139.98 252.56
L 135.93 248.84
L 132.08 244.9
L 128.44 240.77
L 125 236.46
L 121.79 231.97
L 118.8 227.32
L 116.04 222.52
L 113.52 217.59
L 111.25 212.53
L 109.22 207.35
L 107.44 202.07
L 107.31 201.66
L 105.92 196.7
L 104.67 191.25
L 103.68 185.73
L 102.96 180.15
L 102.53 174.53
L 102.39 170.52
L 102.38 168.88
L 102.53 163.21
L 102.98 157.54
L 103.74 151.89
L 104.8 146.28
L 106.04 141.18
L 106.17 140.71
L 107.85 135.23
L 109.84 129.83
L 112.13 124.54
L 114.72 119.38
L 117.61 114.37
L 120.79 109.54
L 124.26 104.9
L 128.01 100.49
L 132.03 96.32
L 136.3 92.41
L 140.8 88.78
L 145.52 85.45
L 150.42 82.41
L 155.48 79.69
L 157.03 78.94
L 160.7 77.29
L 166.03 75.23
L 171.46 73.51
L 174.48 72.7
L 176.97 72.13
L 182.53 71.1
L 188.11 70.4
L 188.23 70.38
L 193.69 70.03
L 199.25 69.96
L 200.89 69.98
L 204.77 70.15
L 210.24 70.57
L 210.24 69.56
L 210.24 68.08
L 210.24 67.06
L 205.49 66.71
L 204.59 66.67
L 198.89 66.58
L 193.17 66.76
L 190.21 66.98
L 187.44 67.27
L 181.73 68.12
L 176.04 69.28
L 173.47 69.92
L 170.42 70.8
L 164.88 72.64
L 159.43 74.8
L 154.09 77.26
L 153.35 77.64
L 148.89 80.05
L 143.84 83.14
L 138.97 86.52
L 134.3 90.19
L 129.87 94.16
L 125.69 98.4
L 121.8 102.91
L 118.2 107.65
L 114.9 112.61
L 111.91 117.76
L 109.23 123.06
L 106.86 128.5
L 104.8 134.05
L 103.05 139.7
L 101.61 145.42
L 101.08 147.92
L 100.47 151.2
L 99.65 157.01
L 99.14 162.85
L 98.94 168.69
L 99.05 174.53
L 99.47 180.33
L 99.57 181.3
L 100.19 186.09
L 101.22 191.8
L 102.54 197.42
L 104.14 202.96
L 106.01 208.39
L 107.72 212.72
L 108.15 213.72
L 110.54 218.92
L 113.19 223.98
L 116.07 228.89
L 119.19 233.66
L 122.53 238.25
L 126.09 242.67
L 129.86 246.9
L 133.83 250.94
L 138 254.76
L 140.47 256.86
L 142.34 258.37
L 146.86 261.76
L 151.54 264.92
L 156.37 267.83
L 161.34 270.51
L 166.43 272.93
L 171.63 275.11
L 176.94 277.02
L 182.33 278.68
L 187.8 280.08
L 188.35 280.21
L 193.34 281.22
L 198.94 282.08
L 204.57 282.69
L 210.24 283.02
L 215.93 283.09
L 221.63 282.89
L 227.33 282.41
L 230.68 282
L 233.01 281.65
L 238.66 280.59
L 244.26 279.24
L 249.81 277.61
L 255.28 275.7
L 257.51 274.83
L 260.66 273.49
L 265.93 270.99
L 271.08 268.21
L 276.09 265.16
L 280.95 261.84
L 281.04 261.77
L 285.62 258.25
L 290.12 254.41
L 294.41 250.32
L 298.49 245.99
L 302.24 241.57
L 302.34 241.44
L 305.94 236.67
L 309.27 231.7
L 312.33 226.55
L 315.1 221.21
L 317.56 215.73
L 319.71 210.1
L 321.53 204.35
L 323.01 198.5
L 324.13 192.57
L 324.89 186.58
L 325.28 180.56
L 325.3 174.53
L 324.93 168.52
L 324.18 162.55
L 323.07 156.66
L 321.59 150.86
L 321.58 150.82
L 319.76 145.18
L 317.6 139.64
L 315.14 134.26
L 315.13 134.24
L 312.37 129.06
L 309.33 124.04
L 307.48 121.24
L 306.05 119.21
L 302.53 114.59
L 298.81 110.18
L 298.3 109.61
L 294.89 105.98
L 290.79 102
L 286.7 98.36
L 286.54 98.23
L 282.13 94.68
L 277.59 91.36
L 272.93 88.25
L 269.9 86.38
L 268.15 85.36
L 263.26 82.69
L 258.29 80.23
L 253.23 77.97
L 248.1 75.91
L 242.89 74.05
L 237.61 72.38
L 232.27 70.9
L 226.85 69.63
L 223.26 68.88
L 221.38 68.55
L 215.84 67.7
L 210.24 67.06
L 210.24 68.08
L 210.24 69.56
L 210.24 70.57
L 215.35 71.17
z
" clip-path="url(#pe13cb6048f)" style="fill: #1f948c; shape-rendering: crispEdges"/>
<path d="M 226.85 69.63
L 232.27 70.9
L 237.61 72.38
L 242.89 74.05
L 248.1 75.91
L 253.23 77.97
L 258.29 80.23
L 263.26 82.69
L 268.15 85.36
L 269.9 86.38
L 272.93 88.25
L 277.59 91.36
L 282.13 94.68
L 286.54 98.23
L 286.7 98.36
L 290.79 102
L 294.89 105.98
L 298.3 109.61
L 298.81 110.18
L 302.53 114.59
L 306.05 119.21
L 307.48 121.24
L 309.33 124.04
L 312.37 129.06
L 315.13 134.24
L 315.14 134.26
L 317.6 139.64
L 319.76 145.18
L 321.58 150.82
L 321.59 150.86
L 323.07 156.66
L 324.18 162.55
L 324.93 168.52
L 325.3 174.53
L 325.28 180.56
L 324.89 186.58
L 324.13 192.57
L 323.01 198.5
L 321.53 204.35
L 319.71 210.1
L 317.56 215.73
L 315.1 221.21
L 312.33 226.55
L 309.27 231.7
L 305.94 236.67
L 302.34 241.44
L 302.24 241.57
L 298.49 245.99
L 294.41 250.32
L 290.12 254.41
L 285.62 258.25
L 281.04 261.77
L 280.95 261.84
L 276.09 265.16
L 271.08 268.21
L 265.93 270.99
L 260.66 273.49
L 257.51 274.83
L 255.28 275.7
L 249.81 277.61
L 244.26 279.24
L 238.66 280.59
L 233.01 281.65
L 230.68 282
L 227.33 282.41
L 221.63 282.89
L 215.93 283.09
L 210.24 283.02
L 204.57 282.69
L 198.94 282.08
L 193.34 281.22
L 188.35 280.21
L 187.8 280.08
L 182.33 278.68
L 176.94 277.02
L 171.63 275.11
L 166.43 272.93
L 161.34 270.51
L 156.37 267.83
L 151.54 264.92
L 146.86 261.76
L 142.34 258.37
L 140.47 256.86
L 138 254.76
L 133.83 250.94
L 129.86 246.9
L 126.09 242.67
L 122.53 238.25
L 119.19 233.66
L 116.07 228.89
L 113.19 223.98
L 110.54 218.92
L 108.15 213.72
L 107.72 212.72
L 106.01 208.39
L 104.14 202.96
L 102.54 197.42
L 101.22 191.8
L 100.19 186.09
L 99.57 181.3
L 99.47 180.33
L 99.05 174.53
L 98.94 168.69
L 99.14 162.85
L 99.65 157.01
L 100.47 151.2
L 101.08 147.92
L 101.61 145.42
L 103.05 139.7
L 104.8 134.05
L 106.86 128.5
L 109.23 123.06
L 111.91 117.76
L 114.9 112.61
L 118.2 107.65
L 121.8 102.91
L 125.69 98.4
L 129.87 94.16
L 134.3 90.19
L 138.97 86.52
L 143.84 83.14
L 148.89 80.05
L 153.35 77.64
L 154.09 77.26
L 159.43 74.8
L 164.88 72.64
L 170.42 70.8
L 173.47 69.92
L 176.04 69.28
L 181.73 68.12
L 187.44 67.27
L 190.21 66.98
L 193.17 66.76
L 198.89 66.58
L 204.59 66.67
L 205.49 66.71
L 210.24 67.06
L 210.24 66.6
L 210.24 65.13
L 210.24 64.07
L 204.96 63.77
L 204.44 63.76
L 198.6 63.81
L 192.75 64.13
L 186.91 64.75
L 185.29 64.97
L 181.08 65.71
L 175.3 66.98
L 169.56 68.55
L 165.46 69.87
L 163.89 70.42
L 158.31 72.61
L 152.83 75.1
L 147.48 77.88
L 146.49 78.44
L 142.27 80.98
L 137.25 84.39
L 132.42 88.1
L 127.83 92.11
L 123.5 96.42
L 120.47 99.81
L 119.46 101.01
L 115.72 105.86
L 112.41 110.74
L 112.29 110.92
L 109.18 116.18
L 106.39 121.62
L 103.93 127.19
L 101.78 132.89
L 99.95 138.69
L 98.43 144.57
L 97.24 150.51
L 96.44 155.91
L 96.37 156.49
L 95.83 162.5
L 95.62 168.52
L 95.73 174.53
L 96.16 180.51
L 96.91 186.44
L 97.3 188.82
L 97.98 192.31
L 99.35 198.1
L 101.02 203.79
L 102.98 209.38
L 105.21 214.85
L 106.55 217.82
L 107.71 220.18
L 110.46 225.37
L 113.47 230.4
L 116.7 235.27
L 120.17 239.97
L 123.85 244.48
L 127.74 248.81
L 131.81 252.91
L 131.84 252.93
L 136.12 256.85
L 140.59 260.54
L 145.22 264.02
L 150.02 267.26
L 154.97 270.26
L 160.06 273.01
L 165.28 275.52
L 170.61 277.77
L 176.05 279.75
L 181.58 281.47
L 187.2 282.92
L 190.11 283.57
L 192.89 284.1
L 198.63 284.99
L 204.42 285.61
L 210.24 285.95
L 216.08 286
L 221.93 285.77
L 227.78 285.25
L 233.45 284.46
L 233.6 284.44
L 239.39 283.32
L 245.13 281.91
L 250.81 280.21
L 256.4 278.21
L 261.91 275.94
L 262.33 275.75
L 267.3 273.36
L 272.56 270.5
L 277.69 267.36
L 282.66 263.96
L 286.24 261.25
L 287.46 260.28
L 292.06 256.35
L 296.46 252.16
L 300.65 247.74
L 304.6 243.08
L 306.66 240.44
L 308.3 238.21
L 311.73 233.12
L 314.88 227.85
L 317.74 222.39
L 320.3 216.77
L 322.53 211.01
L 324.42 205.12
L 325.35 201.69
L 325.97 199.13
L 327.16 193.05
L 327.99 186.9
L 328.43 180.72
L 328.51 175.41
L 328.5 174.53
L 328.17 168.35
L 327.46 162.21
L 326.37 156.14
L 324.9 150.16
L 323.07 144.29
L 322.99 144.05
L 320.89 138.58
L 318.37 133.02
L 315.83 128.17
L 315.53 127.65
L 312.4 122.47
L 309 117.51
L 307.83 115.92
L 305.36 112.76
L 301.5 108.23
L 298.52 105.02
L 297.44 103.92
L 293.19 99.84
L 288.8 95.97
L 286.81 94.33
L 284.25 92.33
L 279.57 88.92
L 274.77 85.72
L 269.85 82.73
L 268.89 82.18
L 264.83 79.97
L 259.71 77.43
L 254.51 75.1
L 249.23 72.97
L 243.86 71.04
L 238.43 69.33
L 232.92 67.82
L 227.35 66.52
L 226.62 66.36
L 221.7 65.46
L 216 64.64
L 210.24 64.07
L 210.24 65.13
L 210.24 66.6
L 210.24 67.06
L 215.84 67.7
L 221.38 68.55
L 223.26 68.88
z
" clip-path="url(#pe13cb6048f)" style="fill: #1e9c89; shape-rendering: crispEdges"/>
<path d="M 227.35 66.52
L 232.92 67.82
L 238.43 69.33
L 243.86 71.04
L 249.23 72.97
L 254.51 75.1
L 259.71 77.43
L 264.83 79.97
L 268.89 82.18
L 269.85 82.73
L 274.77 85.72
L 279.57 88.92
L 284.25 92.33
L 286.81 94.33
L 288.8 95.97
L 293.19 99.84
L 297.44 103.92
L 298.52 105.02
L 301.5 108.23
L 305.36 112.76
L 307.83 115.92
L 309 117.51
L 312.4 122.47
L 315.53 127.65
L 315.83 128.17
L 318.37 133.02
L 320.89 138.58
L 322.99 144.05
L 323.07 144.29
L 324.9 150.16
L 326.37 156.14
L 327.46 162.21
L 328.17 168.35
L 328.5 174.53
L 328.51 175.41
L 328.43 180.72
L 327.99 186.9
L 327.16 193.05
L 325.97 199.13
L 325.35 201.69
L 324.42 205.12
L 322.53 211.01
L 320.3 216.77
L 317.74 222.39
L 314.88 227.85
L 311.73 233.12
L 308.3 238.21
L 306.66 240.44
L 304.6 243.08
L 300.65 247.74
L 296.46 252.16
L 292.06 256.35
L 287.46 260.28
L 286.24 261.25
L 282.66 263.96
L 277.69 267.36
L 272.56 270.5
L 267.3 273.36
L 262.33 275.75
L 261.91 275.94
L 256.4 278.21
L 250.81 280.21
L 245.13 281.91
L 239.39 283.32
L 233.6 284.44
L 233.45 284.46
L 227.78 285.25
L 221.93 285.77
L 216.08 286
L 210.24 285.95
L 204.42 285.61
L 198.63 284.99
L 192.89 284.1
L 190.11 283.57
L 187.2 282.92
L 181.58 281.47
L 176.05 279.75
L 170.61 277.77
L 165.28 275.52
L 160.06 273.01
L 154.97 270.26
L 150.02 267.26
L 145.22 264.02
L 140.59 260.54
L 136.12 256.85
L 131.84 252.93
L 131.81 252.91
L 127.74 248.81
L 123.85 244.48
L 120.17 239.97
L 116.7 235.27
L 113.47 230.4
L 110.46 225.37
L 107.71 220.18
L 106.55 217.82
L 105.21 214.85
L 102.98 209.38
L 101.02 203.79
L 99.35 198.1
L 97.98 192.31
L 97.3 188.82
L 96.91 186.44
L 96.16 180.51
L 95.73 174.53
L 95.62 168.52
L 95.83 162.5
L 96.37 156.49
L 96.44 155.91
L 97.24 150.51
L 98.43 144.57
L 99.95 138.69
L 101.78 132.89
L 103.93 127.19
L 106.39 121.62
L 109.18 116.18
L 112.29 110.92
L 112.41 110.74
L 115.72 105.86
L 119.46 101.01
L 120.47 99.81
L 123.5 96.42
L 127.83 92.11
L 132.42 88.1
L 137.25 84.39
L 142.27 80.98
L 146.49 78.44
L 147.48 77.88
L 152.83 75.1
L 158.31 72.61
L 163.89 70.42
L 165.46 69.87
L 169.56 68.55
L 175.3 66.98
L 181.08 65.71
L 185.29 64.97
L 186.91 64.75
L 192.75 64.13
L 198.6 63.81
L 204.44 63.76
L 204.96 63.77
L 210.24 64.07
L 210.24 63.65
L 210.24 62.17
L 210.24 61.78
L 204.32 61.59
L 198.38 61.68
L 192.96 62.01
L 192.43 62.06
L 186.48 62.75
L 180.55 63.72
L 174.65 64.99
L 172.89 65.43
L 168.8 66.56
L 163.01 68.44
L 157.29 70.61
L 155.39 71.41
L 151.68 73.1
L 146.2 75.91
L 140.87 79.04
L 137.66 81.14
L 135.72 82.5
L 130.8 86.3
L 126.12 90.41
L 121.7 94.81
L 117.57 99.49
L 113.74 104.41
L 110.21 109.57
L 106.99 114.92
L 104.09 120.44
L 101.51 126.12
L 99.25 131.92
L 97.3 137.83
L 95.69 143.83
L 94.4 149.9
L 93.51 155.52
L 93.44 156.03
L 92.84 162.19
L 92.57 168.36
L 92.65 174.53
L 93.06 180.67
L 93.82 186.76
L 94.82 192.36
L 94.91 192.8
L 96.33 198.74
L 98.06 204.59
L 100.09 210.32
L 102.41 215.92
L 103.92 219.17
L 105.01 221.38
L 107.87 226.69
L 110.98 231.84
L 114.33 236.81
L 117.91 241.61
L 121.71 246.22
L 123.5 248.25
L 125.72 250.63
L 129.93 254.84
L 134.33 258.83
L 138.91 262.61
L 143.67 266.16
L 148.59 269.46
L 153.66 272.53
L 158.87 275.34
L 164.21 277.9
L 169.68 280.2
L 175.25 282.22
L 180.91 283.98
L 186.66 285.45
L 192.48 286.65
L 198.36 287.56
L 204.28 288.18
L 205.25 288.26
L 210.24 288.51
L 216.22 288.54
L 222.2 288.28
L 228.17 287.73
L 234.12 286.88
L 240.04 285.73
L 244.07 284.77
L 245.9 284.28
L 251.7 282.53
L 257.41 280.48
L 263.03 278.14
L 268.54 275.51
L 271.65 273.87
L 273.92 272.59
L 279.16 269.39
L 284.24 265.91
L 289.15 262.17
L 293.87 258.16
L 293.87 258.16
L 298.38 253.89
L 302.67 249.38
L 306.72 244.63
L 310.53 239.65
L 312.56 236.75
L 314.06 234.47
L 317.31 229.08
L 320.26 223.51
L 322.9 217.77
L 325.21 211.89
L 327.19 205.86
L 328.81 199.73
L 328.91 199.3
L 330.07 193.51
L 330.95 187.22
L 331.45 180.88
L 331.57 174.53
L 331.34 169
L 331.29 168.18
L 330.61 161.88
L 329.53 155.63
L 328.07 149.48
L 326.24 143.45
L 324.56 138.89
L 324.03 137.55
L 321.47 131.83
L 318.57 126.29
L 316.95 123.52
L 315.36 120.97
L 311.85 115.86
L 308.85 111.95
L 308.08 110.99
L 304.07 106.36
L 299.94 102.07
L 299.84 101.97
L 295.44 97.81
L 290.88 93.88
L 289.13 92.46
L 286.18 90.18
L 281.36 86.7
L 276.42 83.44
L 273.02 81.34
L 271.37 80.39
L 266.21 77.58
L 260.96 74.98
L 255.62 72.6
L 250.2 70.43
L 244.7 68.48
L 239.12 66.76
L 233.47 65.26
L 227.75 64
L 221.96 62.98
L 218.17 62.45
L 216.13 62.23
L 210.24 61.78
L 210.24 62.17
L 210.24 63.65
L 210.24 64.07
L 216 64.64
L 221.7 65.46
L 226.62 66.36
z
" clip-path="url(#pe13cb6048f)" style="fill: #20a486; shape-rendering: crispEdges"/>
<path d="M 221.96 62.98
L 227.75 64
L 233.47 65.26
L 239.12 66.76
L 244.7 68.48
L 250.2 70.43
L 255.62 72.6
L 260.96 74.98
L 266.21 77.58
L 271.37 80.39
L 273.02 81.34
L 276.42 83.44
L 281.36 86.7
L 286.18 90.18
L 289.13 92.46
L 290.88 93.88
L 295.44 97.81
L 299.84 101.97
L 299.94 102.07
L 304.07 106.36
L 308.08 110.99
L 308.85 111.95
L 311.85 115.86
L 315.36 120.97
L 316.95 123.52
L 318.57 126.29
L 321.47 131.83
L 324.03 137.55
L 324.56 138.89
L 326.24 143.45
L 328.07 149.48
L 329.53 155.63
L 330.61 161.88
L 331.29 168.18
L 331.34 169
L 331.57 174.53
L 331.45 180.88
L 330.95 187.22
L 330.07 193.51
L 328.91 199.3
L 328.81 199.73
L 327.19 205.86
L 325.21 211.89
L 322.9 217.77
L 320.26 223.51
L 317.31 229.08
L 314.06 234.47
L 312.56 236.75
L 310.53 239.65
L 306.72 244.63
L 302.67 249.38
L 298.38 253.89
L 293.87 258.16
L 293.87 258.16
L 289.15 262.17
L 284.24 265.91
L 279.16 269.39
L 273.92 272.59
L 271.65 273.87
L 268.54 275.51
L 263.03 278.14
L 257.41 280.48
L 251.7 282.53
L 245.9 284.28
L 244.07 284.77
L 240.04 285.73
L 234.12 286.88
L 228.17 287.73
L 222.2 288.28
L 216.22 288.54
L 210.24 288.51
L 205.25 288.26
L 204.28 288.18
L 198.36 287.56
L 192.48 286.65
L 186.66 285.45
L 180.91 283.98
L 175.25 282.22
L 169.68 280.2
L 164.21 277.9
L 158.87 275.34
L 153.66 272.53
L 148.59 269.46
L 143.67 266.16
L 138.91 262.61
L 134.33 258.83
L 129.93 254.84
L 125.72 250.63
L 123.5 248.25
L 121.71 246.22
L 117.91 241.61
L 114.33 236.81
L 110.98 231.84
L 107.87 226.69
L 105.01 221.38
L 103.92 219.17
L 102.41 215.92
L 100.09 210.32
L 98.06 204.59
L 96.33 198.74
L 94.91 192.8
L 94.82 192.36
L 93.82 186.76
L 93.06 180.67
L 92.65 174.53
L 92.57 168.36
L 92.84 162.19
L 93.44 156.03
L 93.51 155.52
L 94.4 149.9
L 95.69 143.83
L 97.3 137.83
L 99.25 131.92
L 101.51 126.12
L 104.09 120.44
L 106.99 114.92
L 110.21 109.57
L 113.74 104.41
L 117.57 99.49
L 121.7 94.81
L 126.12 90.41
L 130.8 86.3
L 135.72 82.5
L 137.66 81.14
L 140.87 79.04
L 146.2 75.91
L 151.68 73.1
L 155.39 71.41
L 157.29 70.61
L 163.01 68.44
L 168.8 66.56
L 172.89 65.43
L 174.65 64.99
L 180.55 63.72
L 186.48 62.75
L 192.43 62.06
L 192.96 62.01
L 198.38 61.68
L 204.32 61.59
L 210.24 61.78
L 210.24 60.69
L 210.24 59.91
L 204.22 59.74
L 198.26 59.84
L 198.19 59.84
L 192.14 60.22
L 186.09 60.89
L 180.05 61.85
L 178.28 62.19
L 174.04 63.11
L 168.07 64.66
L 162.16 66.53
L 161.57 66.74
L 156.33 68.73
L 150.62 71.27
L 145.04 74.14
L 144.46 74.47
L 139.64 77.36
L 134.43 80.92
L 129.44 84.79
L 124.69 88.98
L 120.2 93.46
L 117.29 96.71
L 116 98.22
L 112.1 103.22
L 108.49 108.45
L 105.19 113.88
L 102.2 119.48
L 101.26 121.43
L 99.53 125.24
L 97.18 131.13
L 95.15 137.13
L 93.44 143.23
L 92.06 149.41
L 91.01 155.64
L 90.3 161.92
L 89.94 168.22
L 89.93 174.53
L 90.27 180.82
L 90.98 187.06
L 91.69 191.44
L 92.04 193.25
L 93.46 199.35
L 95.21 205.35
L 97.29 211.23
L 99.68 216.97
L 100.84 219.48
L 102.37 222.56
L 105.32 227.99
L 108.54 233.24
L 112.01 238.32
L 115.71 243.21
L 116.56 244.27
L 119.63 247.91
L 123.76 252.4
L 128.09 256.68
L 132.61 260.75
L 137.31 264.59
L 142.19 268.19
L 147.23 271.56
L 152.42 274.67
L 157.76 277.53
L 163.22 280.13
L 168.81 282.46
L 174.5 284.51
L 180.3 286.28
L 186.17 287.77
L 192.11 288.97
L 198.12 289.89
L 204.16 290.5
L 210.24 290.83
L 216.34 290.85
L 222.44 290.58
L 225.16 290.37
L 228.53 290
L 234.6 289.12
L 240.63 287.94
L 246.61 286.46
L 252.52 284.67
L 258 282.73
L 258.35 282.59
L 264.08 280.2
L 269.7 277.51
L 275.19 274.54
L 280.54 271.29
L 282.74 269.84
L 285.73 267.75
L 290.74 263.93
L 295.56 259.85
L 300.18 255.51
L 302.61 253.04
L 304.58 250.92
L 308.73 246.08
L 312.63 241.02
L 316.26 235.74
L 319.32 230.73
L 319.6 230.25
L 322.62 224.56
L 325.33 218.71
L 327.71 212.7
L 329.74 206.55
L 331.42 200.29
L 332.74 193.93
L 333.67 187.5
L 334.23 181.03
L 334.39 174.53
L 334.15 168.03
L 333.52 161.57
L 332.49 155.17
L 331.07 148.85
L 329.26 142.64
L 327.08 136.56
L 326.25 134.55
L 324.51 130.66
L 321.58 124.95
L 318.31 119.46
L 317.96 118.91
L 314.72 114.21
L 310.82 109.21
L 309.87 108.09
L 306.66 104.48
L 302.26 100.01
L 301.47 99.26
L 297.67 95.8
L 292.92 91.85
L 292.05 91.17
L 288.03 88.14
L 283.02 84.65
L 279.89 82.62
L 277.91 81.39
L 272.7 78.35
L 267.4 75.52
L 262.02 72.91
L 256.55 70.52
L 255.75 70.19
L 251 68.35
L 245.37 66.41
L 239.67 64.71
L 233.9 63.23
L 231.58 62.71
L 228.06 62.01
L 222.17 61.05
L 216.22 60.35
L 210.24 59.91
L 210.24 60.69
L 210.24 61.78
L 216.13 62.23
L 218.17 62.45
z
" clip-path="url(#pe13cb6048f)" style="fill: #25ac82; shape-rendering: crispEdges"/>
<path d="M 233.9 63.23
L 239.67 64.71
L 245.37 66.41
L 251 68.35
L 255.75 70.19
L 256.55 70.52
L 262.02 72.91
L 267.4 75.52
L 272.7 78.35
L 277.91 81.39
L 279.89 82.62
L 283.02 84.65
L 288.03 88.14
L 292.05 91.17
L 292.92 91.85
L 297.67 95.8
L 301.47 99.26
L 302.26 100.01
L 306.66 104.48
L 309.87 108.09
L 310.82 109.21
L 314.72 114.21
L 317.96 118.91
L 318.31 119.46
L 321.58 124.95
L 324.51 130.66
L 326.25 134.55
L 327.08 136.56
L 329.26 142.64
L 331.07 148.85
L 332.49 155.17
L 333.52 161.57
L 334.15 168.03
L 334.39 174.53
L 334.23 181.03
L 333.67 187.5
L 332.74 193.93
L 331.42 200.29
L 329.74 206.55
L 327.71 212.7
L 325.33 218.71
L 322.62 224.56
L 319.6 230.25
L 319.32 230.73
L 316.26 235.74
L 312.63 241.02
L 308.73 246.08
L 304.58 250.92
L 302.61 253.04
L 300.18 255.51
L 295.56 259.85
L 290.74 263.93
L 285.73 267.75
L 282.74 269.84
L 280.54 271.29
L 275.19 274.54
L 269.7 277.51
L 264.08 280.2
L 258.35 282.59
L 258 282.73
L 252.52 284.67
L 246.61 286.46
L 240.63 287.94
L 234.6 289.12
L 228.53 290
L 225.16 290.37
L 222.44 290.58
L 216.34 290.85
L 210.24 290.83
L 204.16 290.5
L 198.12 289.89
L 192.11 288.97
L 186.17 287.77
L 180.3 286.28
L 174.5 284.51
L 168.81 282.46
L 163.22 280.13
L 157.76 277.53
L 152.42 274.67
L 147.23 271.56
L 142.19 268.19
L 137.31 264.59
L 132.61 260.75
L 128.09 256.68
L 123.76 252.4
L 119.63 247.91
L 116.56 244.27
L 115.71 243.21
L 112.01 238.32
L 108.54 233.24
L 105.32 227.99
L 102.37 222.56
L 100.84 219.48
L 99.68 216.97
L 97.29 211.23
L 95.21 205.35
L 93.46 199.35
L 92.04 193.25
L 91.69 191.44
L 90.98 187.06
L 90.27 180.82
L 89.93 174.53
L 89.94 168.22
L 90.3 161.92
L 91.01 155.64
L 92.06 149.41
L 93.44 143.23
L 95.15 137.13
L 97.18 131.13
L 99.53 125.24
L 101.26 121.43
L 102.2 119.48
L 105.19 113.88
L 108.49 108.45
L 112.1 103.22
L 116 98.22
L 117.29 96.71
L 120.2 93.46
L 124.69 88.98
L 129.44 84.79
L 134.43 80.92
L 139.64 77.36
L 144.46 74.47
L 145.04 74.14
L 150.62 71.27
L 156.33 68.73
L 161.57 66.74
L 162.16 66.53
L 168.07 64.66
L 174.04 63.11
L 178.28 62.19
L 180.05 61.85
L 186.09 60.89
L 192.14 60.22
L 198.19 59.84
L 198.26 59.84
L 204.22 59.74
L 210.24 59.91
L 210.24 59.21
L 210.24 58.12
L 204.13 57.95
L 203.28 57.94
L 197.99 58.02
L 191.84 58.38
L 185.69 59.02
L 183.43 59.33
L 179.54 59.96
L 173.42 61.21
L 167.35 62.79
L 166.64 63
L 161.35 64.71
L 155.44 66.98
L 149.65 69.59
L 148.93 69.95
L 144.02 72.55
L 138.55 75.85
L 133.28 79.49
L 128.22 83.44
L 125.32 85.95
L 123.41 87.7
L 118.87 92.26
L 114.6 97.08
L 110.63 102.16
L 106.95 107.45
L 103.58 112.95
L 100.52 118.62
L 97.77 124.45
L 95.33 130.42
L 93.21 136.5
L 91.41 142.69
L 89.94 148.96
L 88.8 155.29
L 88 161.68
L 87.55 168.1
L 87.45 174.53
L 87.64 179.74
L 87.72 180.95
L 88.36 187.34
L 89.37 193.67
L 90.74 199.93
L 92.47 206.08
L 94.56 212.12
L 96.98 218.01
L 97.72 219.66
L 99.71 223.74
L 102.75 229.3
L 106.06 234.68
L 109.64 239.86
L 111.97 242.97
L 113.46 244.84
L 117.51 249.62
L 121.77 254.19
L 126.23 258.54
L 130.89 262.66
L 135.72 266.55
L 140.18 269.81
L 140.73 270.2
L 145.9 273.6
L 151.22 276.76
L 156.68 279.65
L 162.27 282.27
L 167.98 284.62
L 173.8 286.69
L 179.71 288.47
L 185.7 289.97
L 191.76 291.18
L 197.88 292.09
L 200.98 292.44
L 204.05 292.7
L 210.24 293
L 216.45 293.01
L 222.66 292.71
L 228.86 292.11
L 235.04 291.2
L 241.18 289.99
L 245.85 288.86
L 247.26 288.48
L 253.28 286.64
L 259.21 284.51
L 265.04 282.08
L 270.76 279.36
L 273.61 277.88
L 276.36 276.34
L 281.81 273.04
L 287.11 269.45
L 292.23 265.58
L 294.51 263.73
L 297.16 261.44
L 301.87 257.03
L 306.36 252.36
L 310.61 247.45
L 312.03 245.67
L 314.58 242.29
L 318.27 236.9
L 321.67 231.31
L 324.76 225.52
L 327.53 219.55
L 327.85 218.8
L 329.94 213.42
L 332.01 207.16
L 333.72 200.77
L 335.06 194.3
L 336.03 187.75
L 336.61 181.15
L 336.81 174.53
L 336.61 167.91
L 336.03 161.31
L 335.05 154.76
L 333.68 148.29
L 331.92 141.92
L 329.79 135.68
L 329.51 134.94
L 327.26 129.61
L 324.36 123.72
L 321.11 118.04
L 319.53 115.55
L 317.5 112.6
L 313.57 107.43
L 310.65 104
L 309.33 102.54
L 304.81 97.95
L 302.23 95.57
L 300.05 93.66
L 295.09 89.67
L 293.6 88.55
L 289.99 85.96
L 284.75 82.52
L 283.85 81.96
L 279.43 79.29
L 274.03 76.3
L 270.5 74.48
L 268.56 73.52
L 263.02 70.94
L 257.41 68.59
L 251.73 66.45
L 245.98 64.54
L 240.16 62.86
L 234.28 61.41
L 228.35 60.21
L 222.36 59.26
L 216.32 58.56
L 210.24 58.12
L 210.24 59.21
L 210.24 59.91
L 216.22 60.35
L 222.17 61.05
L 228.06 62.01
L 231.58 62.71
z
" clip-path="url(#pe13cb6048f)" style="fill: #2fb47c; shape-rendering: crispEdges"/>
<path d="M 216.32 58.56
L 222.36 59.26
L 228.35 60.21
L 234.28 61.41
L 240.16 62.86
L 245.98 64.54
L 251.73 66.45
L 257.41 68.59
L 263.02 70.94
L 268.56 73.52
L 270.5 74.48
L 274.03 76.3
L 279.43 79.29
L 283.85 81.96
L 284.75 82.52
L 289.99 85.96
L 293.6 88.55
L 295.09 89.67
L 300.05 93.66
L 302.23 95.57
L 304.81 97.95
L 309.33 102.54
L 310.65 104
L 313.57 107.43
L 317.5 112.6
L 319.53 115.55
L 321.11 118.04
L 324.36 123.72
L 327.26 129.61
L 329.51 134.94
L 329.79 135.68
L 331.92 141.92
L 333.68 148.29
L 335.05 154.76
L 336.03 161.31
L 336.61 167.91
L 336.81 174.53
L 336.61 181.15
L 336.03 187.75
L 335.06 194.3
L 333.72 200.77
L 332.01 207.16
L 329.94 213.42
L 327.85 218.8
L 327.53 219.55
L 324.76 225.52
L 321.67 231.31
L 318.27 236.9
L 314.58 242.29
L 312.03 245.67
L 310.61 247.45
L 306.36 252.36
L 301.87 257.03
L 297.16 261.44
L 294.51 263.73
L 292.23 265.58
L 287.11 269.45
L 281.81 273.04
L 276.36 276.34
L 273.61 277.88
L 270.76 279.36
L 265.04 282.08
L 259.21 284.51
L 253.28 286.64
L 247.26 288.48
L 245.85 288.86
L 241.18 289.99
L 235.04 291.2
L 228.86 292.11
L 222.66 292.71
L 216.45 293.01
L 210.24 293
L 204.05 292.7
L 200.98 292.44
L 197.88 292.09
L 191.76 291.18
L 185.7 289.97
L 179.71 288.47
L 173.8 286.69
L 167.98 284.62
L 162.27 282.27
L 156.68 279.65
L 151.22 276.76
L 145.9 273.6
L 140.73 270.2
L 140.18 269.81
L 135.72 266.55
L 130.89 262.66
L 126.23 258.54
L 121.77 254.19
L 117.51 249.62
L 113.46 244.84
L 111.97 242.97
L 109.64 239.86
L 106.06 234.68
L 102.75 229.3
L 99.71 223.74
L 97.72 219.66
L 96.98 218.01
L 94.56 212.12
L 92.47 206.08
L 90.74 199.93
L 89.37 193.67
L 88.36 187.34
L 87.72 180.95
L 87.64 179.74
L 87.45 174.53
L 87.55 168.1
L 88 161.68
L 88.8 155.29
L 89.94 148.96
L 91.41 142.69
L 93.21 136.5
L 95.33 130.42
L 97.77 124.45
L 100.52 118.62
L 103.58 112.95
L 106.95 107.45
L 110.63 102.16
L 114.6 97.08
L 118.87 92.26
L 123.41 87.7
L 125.32 85.95
L 128.22 83.44
L 133.28 79.49
L 138.55 75.85
L 144.02 72.55
L 148.93 69.95
L 149.65 69.59
L 155.44 66.98
L 161.35 64.71
L 166.64 63
L 167.35 62.79
L 173.42 61.21
L 179.54 59.96
L 183.43 59.33
L 185.69 59.02
L 191.84 58.38
L 197.99 58.02
L 203.28 57.94
L 204.13 57.95
L 210.24 58.12
L 210.24 57.73
L 210.24 56.26
L 210.24 56.23
L 204.03 56.02
L 197.79 56.08
L 191.53 56.43
L 189.32 56.62
L 185.28 57.08
L 179.03 58.05
L 172.82 59.35
L 171.28 59.73
L 166.66 61
L 160.58 63
L 154.6 65.34
L 152.48 66.26
L 148.75 68.03
L 143.05 71.06
L 137.52 74.44
L 132.18 78.14
L 129.25 80.39
L 127.07 82.16
L 122.19 86.48
L 117.58 91.1
L 113.25 95.99
L 109.2 101.12
L 105.45 106.48
L 102.01 112.04
L 98.87 117.78
L 96.04 123.68
L 93.51 129.72
L 91.31 135.88
L 89.42 142.15
L 87.85 148.51
L 86.61 154.95
L 85.72 161.44
L 85.18 167.97
L 85 174.53
L 85.19 181.08
L 85.77 187.61
L 86.74 194.09
L 88.08 200.49
L 89.8 206.8
L 91.89 212.98
L 94.14 218.6
L 94.32 219.02
L 97.09 224.9
L 100.18 230.61
L 103.57 236.12
L 107.23 241.42
L 108.49 243.12
L 111.16 246.51
L 115.33 251.38
L 119.73 256.02
L 124.33 260.43
L 128.82 264.35
L 129.13 264.61
L 134.12 268.53
L 139.27 272.21
L 144.58 275.64
L 150.03 278.81
L 155.63 281.71
L 161.35 284.34
L 167.18 286.69
L 173.12 288.76
L 179.15 290.54
L 185.27 292.03
L 191.44 293.22
L 197.67 294.11
L 203.94 294.69
L 210.24 294.98
L 216.55 294.97
L 222.87 294.65
L 229.17 294.02
L 235.44 293.09
L 235.78 293.04
L 241.68 291.85
L 247.86 290.3
L 253.97 288.45
L 260 286.3
L 265.94 283.85
L 266.16 283.75
L 271.77 281.1
L 277.47 278.05
L 283.02 274.7
L 287.83 271.49
L 288.42 271.07
L 293.64 267.15
L 298.66 262.94
L 303.46 258.46
L 306.08 255.8
L 308.03 253.71
L 312.33 248.7
L 316.36 243.44
L 320.11 237.96
L 323.16 232.96
L 323.56 232.27
L 326.67 226.37
L 329.46 220.29
L 331.9 214.06
L 334 207.69
L 335.74 201.2
L 337.11 194.62
L 338.1 187.97
L 338.54 183.54
L 338.71 181.26
L 338.93 174.53
L 338.77 167.79
L 338.22 161.08
L 337.31 154.65
L 337.27 154.41
L 335.94 147.81
L 334.21 141.31
L 332.11 134.93
L 329.62 128.7
L 326.77 122.65
L 323.56 116.79
L 323.27 116.31
L 319.97 111.17
L 316.06 105.81
L 312.5 101.49
L 311.82 100.72
L 307.27 95.95
L 303.05 92.02
L 302.46 91.5
L 297.38 87.38
L 294.18 85.02
L 292.12 83.59
L 286.69 80.12
L 285.06 79.14
L 281.15 76.92
L 275.53 73.99
L 274.48 73.47
L 269.85 71.28
L 264.12 68.79
L 258.9 66.73
L 258.33 66.52
L 252.5 64.43
L 246.62 62.56
L 240.68 60.92
L 234.69 59.5
L 228.65 58.31
L 222.55 57.37
L 216.42 56.67
L 210.79 56.26
L 210.24 56.23
L 210.24 56.26
L 210.24 57.73
L 210.24 58.12
z
" clip-path="url(#pe13cb6048f)" style="fill: #3bbb75; shape-rendering: crispEdges"/>
<path d="M 216.42 56.67
L 222.55 57.37
L 228.65 58.31
L 234.69 59.5
L 240.68 60.92
L 246.62 62.56
L 252.5 64.43
L 258.33 66.52
L 258.9 66.73
L 264.12 68.79
L 269.85 71.28
L 274.48 73.47
L 275.53 73.99
L 281.15 76.92
L 285.06 79.14
L 286.69 80.12
L 292.12 83.59
L 294.18 85.02
L 297.38 87.38
L 302.46 91.5
L 303.05 92.02
L 307.27 95.95
L 311.82 100.72
L 312.5 101.49
L 316.06 105.81
L 319.97 111.17
L 323.27 116.31
L 323.56 116.79
L 326.77 122.65
L 329.62 128.7
L 332.11 134.93
L 334.21 141.31
L 335.94 147.81
L 337.27 154.41
L 337.31 154.65
L 338.22 161.08
L 338.77 167.79
L 338.93 174.53
L 338.71 181.26
L 338.54 183.54
L 338.1 187.97
L 337.11 194.62
L 335.74 201.2
L 334 207.69
L 331.9 214.06
L 329.46 220.29
L 326.67 226.37
L 323.56 232.27
L 323.16 232.96
L 320.11 237.96
L 316.36 243.44
L 312.33 248.7
L 308.03 253.71
L 306.08 255.8
L 303.46 258.46
L 298.66 262.94
L 293.64 267.15
L 288.42 271.07
L 287.83 271.49
L 283.02 274.7
L 277.47 278.05
L 271.77 281.1
L 266.16 283.75
L 265.94 283.85
L 260 286.3
L 253.97 288.45
L 247.86 290.3
L 241.68 291.85
L 235.78 293.04
L 235.44 293.09
L 229.17 294.02
L 222.87 294.65
L 216.55 294.97
L 210.24 294.98
L 203.94 294.69
L 197.67 294.11
L 191.44 293.22
L 185.27 292.03
L 179.15 290.54
L 173.12 288.76
L 167.18 286.69
L 161.35 284.34
L 155.63 281.71
L 150.03 278.81
L 144.58 275.64
L 139.27 272.21
L 134.12 268.53
L 129.13 264.61
L 128.82 264.35
L 124.33 260.43
L 119.73 256.02
L 115.33 251.38
L 111.16 246.51
L 108.49 243.12
L 107.23 241.42
L 103.57 236.12
L 100.18 230.61
L 97.09 224.9
L 94.32 219.02
L 94.14 218.6
L 91.89 212.98
L 89.8 206.8
L 88.08 200.49
L 86.74 194.09
L 85.77 187.61
L 85.19 181.08
L 85 174.53
L 85.18 167.97
L 85.72 161.44
L 86.61 154.95
L 87.85 148.51
L 89.42 142.15
L 91.31 135.88
L 93.51 129.72
L 96.04 123.68
L 98.87 117.78
L 102.01 112.04
L 105.45 106.48
L 109.2 101.12
L 113.25 95.99
L 117.58 91.1
L 122.19 86.48
L 127.07 82.16
L 129.25 80.39
L 132.18 78.14
L 137.52 74.44
L 143.05 71.06
L 148.75 68.03
L 152.48 66.26
L 154.6 65.34
L 160.58 63
L 166.66 61
L 171.28 59.73
L 172.82 59.35
L 179.03 58.05
L 185.28 57.08
L 189.32 56.62
L 191.53 56.43
L 197.79 56.08
L 204.03 56.02
L 210.24 56.23
L 210.24 54.78
L 210.24 54.12
L 203.92 53.94
L 197.58 54.04
L 196.45 54.09
L 191.22 54.44
L 184.86 55.15
L 178.53 56.18
L 176.08 56.67
L 172.23 57.56
L 166 59.28
L 159.85 61.35
L 155.73 62.95
L 153.8 63.76
L 147.88 66.52
L 142.11 69.62
L 136.51 73.05
L 132.37 75.9
L 131.11 76.81
L 125.93 80.89
L 120.99 85.28
L 116.31 89.95
L 111.9 94.89
L 107.78 100.08
L 103.95 105.5
L 100.42 111.12
L 97.19 116.93
L 94.27 122.9
L 91.66 129.01
L 89.35 135.25
L 88.64 137.39
L 87.36 141.6
L 85.69 148.05
L 84.35 154.59
L 83.36 161.19
L 82.72 167.84
L 82.46 174.53
L 82.59 181.22
L 83.13 187.89
L 84.07 194.51
L 85.41 201.06
L 87.15 207.51
L 89.26 213.84
L 89.79 215.22
L 91.74 220.02
L 94.57 226.03
L 97.72 231.86
L 101.17 237.5
L 104.05 241.72
L 104.92 242.92
L 108.94 248.13
L 113.22 253.1
L 117.73 257.83
L 121.84 261.75
L 122.46 262.31
L 127.4 266.53
L 132.53 270.5
L 137.82 274.2
L 143.28 277.64
L 148.88 280.82
L 149.54 281.17
L 154.61 283.71
L 160.46 286.33
L 166.42 288.67
L 172.49 290.72
L 178.63 292.49
L 184.86 293.95
L 191.14 295.12
L 197.47 295.99
L 203.84 296.56
L 210.24 296.83
L 216.65 296.8
L 223.06 296.47
L 226.06 296.21
L 229.45 295.83
L 235.82 294.89
L 242.15 293.64
L 248.43 292.08
L 254.65 290.21
L 259.48 288.53
L 260.78 288.05
L 266.82 285.57
L 272.75 282.8
L 278.55 279.71
L 281.91 277.75
L 284.2 276.33
L 289.69 272.64
L 294.99 268.65
L 300.09 264.38
L 301.08 263.48
L 304.95 259.81
L 309.57 254.96
L 313.92 249.86
L 318.01 244.51
L 319.54 242.32
L 321.79 238.93
L 325.25 233.13
L 328.4 227.14
L 331.22 220.97
L 333.69 214.64
L 335.81 208.17
L 336.86 204.42
L 337.57 201.59
L 338.95 194.91
L 339.96 188.16
L 340.59 181.36
L 340.83 174.53
L 340.7 167.69
L 340.17 160.87
L 339.25 154.09
L 337.95 147.38
L 336.26 140.76
L 334.19 134.25
L 331.74 127.89
L 331.2 126.64
L 328.91 121.69
L 325.71 115.69
L 322.16 109.91
L 318.26 104.38
L 316.77 102.45
L 314.02 99.13
L 309.47 94.17
L 305.46 90.28
L 304.64 89.53
L 299.53 85.24
L 295.42 82.14
L 294.2 81.28
L 288.67 77.68
L 285.76 75.95
L 282.98 74.4
L 277.19 71.44
L 275.58 70.66
L 271.31 68.74
L 265.38 66.3
L 262.97 65.37
L 259.42 64.08
L 253.41 62.07
L 247.36 60.27
L 241.28 58.69
L 235.15 57.32
L 228.99 56.16
L 222.78 55.24
L 216.53 54.56
L 210.24 54.12
L 210.24 54.78
L 210.24 56.23
L 210.79 56.26
z
" clip-path="url(#pe13cb6048f)" style="fill: #4cc26c; shape-rendering: crispEdges"/>
<path d="M 216.53 54.56
L 222.78 55.24
L 228.99 56.16
L 235.15 57.32
L 241.28 58.69
L 247.36 60.27
L 253.41 62.07
L 259.42 64.08
L 262.97 65.37
L 265.38 66.3
L 271.31 68.74
L 275.58 70.66
L 277.19 71.44
L 282.98 74.4
L 285.76 75.95
L 288.67 77.68
L 294.2 81.28
L 295.42 82.14
L 299.53 85.24
L 304.64 89.53
L 305.46 90.28
L 309.47 94.17
L 314.02 99.13
L 316.77 102.45
L 318.26 104.38
L 322.16 109.91
L 325.71 115.69
L 328.91 121.69
L 331.2 126.64
L 331.74 127.89
L 334.19 134.25
L 336.26 140.76
L 337.95 147.38
L 339.25 154.09
L 340.17 160.87
L 340.7 167.69
L 340.83 174.53
L 340.59 181.36
L 339.96 188.16
L 338.95 194.91
L 337.57 201.59
L 336.86 204.42
L 335.81 208.17
L 333.69 214.64
L 331.22 220.97
L 328.4 227.14
L 325.25 233.13
L 321.79 238.93
L 319.54 242.32
L 318.01 244.51
L 313.92 249.86
L 309.57 254.96
L 304.95 259.81
L 301.08 263.48
L 300.09 264.38
L 294.99 268.65
L 289.69 272.64
L 284.2 276.33
L 281.91 277.75
L 278.55 279.71
L 272.75 282.8
L 266.82 285.57
L 260.78 288.05
L 259.48 288.53
L 254.65 290.21
L 248.43 292.08
L 242.15 293.64
L 235.82 294.89
L 229.45 295.83
L 226.06 296.21
L 223.06 296.47
L 216.65 296.8
L 210.24 296.83
L 203.84 296.56
L 197.47 295.99
L 191.14 295.12
L 184.86 293.95
L 178.63 292.49
L 172.49 290.72
L 166.42 288.67
L 160.46 286.33
L 154.61 283.71
L 149.54 281.17
L 148.88 280.82
L 143.28 277.64
L 137.82 274.2
L 132.53 270.5
L 127.4 266.53
L 122.46 262.31
L 121.84 261.75
L 117.73 257.83
L 113.22 253.1
L 108.94 248.13
L 104.92 242.92
L 104.05 241.72
L 101.17 237.5
L 97.72 231.86
L 94.57 226.03
L 91.74 220.02
L 89.79 215.22
L 89.26 213.84
L 87.15 207.51
L 85.41 201.06
L 84.07 194.51
L 83.13 187.89
L 82.59 181.22
L 82.46 174.53
L 82.72 167.84
L 83.36 161.19
L 84.35 154.59
L 85.69 148.05
L 87.36 141.6
L 88.64 137.39
L 89.35 135.25
L 91.66 129.01
L 94.27 122.9
L 97.19 116.93
L 100.42 111.12
L 103.95 105.5
L 107.78 100.08
L 111.9 94.89
L 116.31 89.95
L 120.99 85.28
L 125.93 80.89
L 131.11 76.81
L 132.37 75.9
L 136.51 73.05
L 142.11 69.62
L 147.88 66.52
L 153.8 63.76
L 155.73 62.95
L 159.85 61.35
L 166 59.28
L 172.23 57.56
L 176.08 56.67
L 178.53 56.18
L 184.86 55.15
L 191.22 54.44
L 196.45 54.09
L 197.58 54.04
L 203.92 53.94
L 210.24 54.12
L 210.24 53.3
L 210.24 51.95
L 207.41 51.85
L 203.81 51.83
L 197.36 52
L 190.91 52.46
L 184.46 53.25
L 181.52 53.71
L 178.04 54.36
L 171.67 55.81
L 165.36 57.6
L 159.13 59.74
L 158.97 59.8
L 153.02 62.22
L 147.03 65.05
L 141.19 68.21
L 135.53 71.7
L 134.85 72.15
L 130.07 75.52
L 124.82 79.66
L 119.81 84.1
L 115.06 88.83
L 110.58 93.82
L 106.38 99.07
L 102.47 104.54
L 98.87 110.19
L 98.85 110.22
L 95.54 116.08
L 92.52 122.12
L 89.81 128.3
L 87.4 134.61
L 85.3 141.05
L 83.51 147.59
L 82.06 154.23
L 80.96 160.94
L 80.52 164.6
L 80.22 167.71
L 79.88 174.53
L 79.96 181.36
L 80.46 188.17
L 81.39 194.94
L 82.75 201.63
L 84.52 208.22
L 85.02 209.81
L 86.68 214.67
L 89.23 220.98
L 92.13 227.12
L 95.36 233.06
L 98.33 237.92
L 98.9 238.81
L 102.74 244.34
L 106.86 249.64
L 111.23 254.7
L 114.31 257.98
L 115.85 259.52
L 120.69 264.07
L 125.75 268.37
L 131 272.39
L 135.2 275.33
L 136.42 276.13
L 142.01 279.6
L 147.74 282.78
L 153.6 285.68
L 159.59 288.3
L 165.67 290.63
L 171.86 292.66
L 173.39 293.12
L 178.12 294.41
L 184.45 295.85
L 190.84 297.01
L 197.28 297.86
L 203.75 298.41
L 210.24 298.67
L 212.65 298.69
L 216.74 298.63
L 223.25 298.29
L 229.74 297.65
L 236.21 296.7
L 242.64 295.44
L 249.02 293.87
L 252.33 292.93
L 255.33 292
L 261.57 289.81
L 267.71 287.31
L 273.73 284.49
L 276.14 283.26
L 279.62 281.36
L 285.35 277.91
L 290.91 274.15
L 296.28 270.09
L 296.68 269.77
L 301.43 265.72
L 306.35 261.07
L 311.02 256.14
L 315.42 250.94
L 316.64 249.39
L 319.53 245.5
L 323.34 239.82
L 326.84 233.94
L 330.01 227.85
L 332.85 221.59
L 335.35 215.18
L 335.74 214.07
L 337.48 208.62
L 339.25 201.95
L 340.66 195.18
L 341.69 188.34
L 342.34 181.45
L 342.61 174.53
L 342.49 167.6
L 341.99 160.68
L 341.09 153.8
L 339.82 146.99
L 338.15 140.25
L 336.1 133.63
L 333.67 127.15
L 330.87 120.82
L 327.69 114.68
L 324.64 109.53
L 324.16 108.76
L 320.26 103.08
L 316.03 97.67
L 311.48 92.55
L 310.04 91.06
L 306.62 87.75
L 301.48 83.29
L 298.39 80.86
L 296.09 79.18
L 290.49 75.42
L 287.74 73.74
L 284.72 72.01
L 278.81 68.93
L 276.94 68.03
L 272.8 66.17
L 266.71 63.69
L 264.75 62.94
L 260.57 61.48
L 254.39 59.51
L 248.18 57.76
L 246.78 57.39
L 241.94 56.23
L 235.67 54.91
L 229.36 53.82
L 223.02 52.95
L 216.64 52.33
L 210.24 51.95
L 210.24 53.3
L 210.24 54.12
z
" clip-path="url(#pe13cb6048f)" style="fill: #5ec962; shape-rendering: crispEdges"/>
<path d="M 216.64 52.33
L 223.02 52.95
L 229.36 53.82
L 235.67 54.91
L 241.94 56.23
L 246.78 57.39
L 248.18 57.76
L 254.39 59.51
L 260.57 61.48
L 264.75 62.94
L 266.71 63.69
L 272.8 66.17
L 276.94 68.03
L 278.81 68.93
L 284.72 72.01
L 287.74 73.74
L 290.49 75.42
L 296.09 79.18
L 298.39 80.86
L 301.48 83.29
L 306.62 87.75
L 310.04 91.06
L 311.48 92.55
L 316.03 97.67
L 320.26 103.08
L 324.16 108.76
L 324.64 109.53
L 327.69 114.68
L 330.87 120.82
L 333.67 127.15
L 336.1 133.63
L 338.15 140.25
L 339.82 146.99
L 341.09 153.8
L 341.99 160.68
L 342.49 167.6
L 342.61 174.53
L 342.34 181.45
L 341.69 188.34
L 340.66 195.18
L 339.25 201.95
L 337.48 208.62
L 335.74 214.07
L 335.35 215.18
L 332.85 221.59
L 330.01 227.85
L 326.84 233.94
L 323.34 239.82
L 319.53 245.5
L 316.64 249.39
L 315.42 250.94
L 311.02 256.14
L 306.35 261.07
L 301.43 265.72
L 296.68 269.77
L 296.28 270.09
L 290.91 274.15
L 285.35 277.91
L 279.62 281.36
L 276.14 283.26
L 273.73 284.49
L 267.71 287.31
L 261.57 289.81
L 255.33 292
L 252.33 292.93
L 249.02 293.87
L 242.64 295.44
L 236.21 296.7
L 229.74 297.65
L 223.25 298.29
L 216.74 298.63
L 212.65 298.69
L 210.24 298.67
L 203.75 298.41
L 197.28 297.86
L 190.84 297.01
L 184.45 295.85
L 178.12 294.41
L 173.39 293.12
L 171.86 292.66
L 165.67 290.63
L 159.59 288.3
L 153.6 285.68
L 147.74 282.78
L 142.01 279.6
L 136.42 276.13
L 135.2 275.33
L 131 272.39
L 125.75 268.37
L 120.69 264.07
L 115.85 259.52
L 114.31 257.98
L 111.23 254.7
L 106.86 249.64
L 102.74 244.34
L 98.9 238.81
L 98.33 237.92
L 95.36 233.06
L 92.13 227.12
L 89.23 220.98
L 86.68 214.67
L 85.02 209.81
L 84.52 208.22
L 82.75 201.63
L 81.39 194.94
L 80.46 188.17
L 79.96 181.36
L 79.88 174.53
L 80.22 167.71
L 80.52 164.6
L 80.96 160.94
L 82.06 154.23
L 83.51 147.59
L 85.3 141.05
L 87.4 134.61
L 89.81 128.3
L 92.52 122.12
L 95.54 116.08
L 98.85 110.22
L 98.87 110.19
L 102.47 104.54
L 106.38 99.07
L 110.58 93.82
L 115.06 88.83
L 119.81 84.1
L 124.82 79.66
L 130.07 75.52
L 134.85 72.15
L 135.53 71.7
L 141.19 68.21
L 147.03 65.05
L 153.02 62.22
L 158.97 59.8
L 159.13 59.74
L 165.36 57.6
L 171.67 55.81
L 178.04 54.36
L 181.52 53.71
L 184.46 53.25
L 190.91 52.46
L 197.36 52
L 203.81 51.83
L 207.41 51.85
L 210.24 51.95
L 210.24 51.82
L 210.24 50.34
L 210.24 49.79
L 203.7 49.75
L 197.15 49.99
L 190.6 50.54
L 188.24 50.8
L 184.07 51.4
L 177.57 52.59
L 171.12 54.11
L 164.73 55.97
L 162.18 56.82
L 158.44 58.18
L 152.26 60.73
L 146.2 63.62
L 140.31 66.84
L 136.39 69.22
L 134.58 70.39
L 129.06 74.27
L 123.74 78.47
L 118.67 82.96
L 113.85 87.74
L 109.29 92.78
L 105.01 98.08
L 104.24 99.09
L 101.02 103.6
L 97.32 109.33
L 93.9 115.25
L 90.79 121.34
L 87.96 127.59
L 85.44 133.98
L 83.22 140.49
L 82.67 142.31
L 81.32 147.13
L 79.75 153.86
L 78.53 160.68
L 77.69 167.58
L 77.27 174.53
L 77.23 178.1
L 77.37 181.49
L 77.91 188.44
L 78.82 195.34
L 80.09 202.19
L 80.13 202.38
L 81.91 208.91
L 84.15 215.5
L 86.77 221.92
L 89.76 228.17
L 92.33 232.92
L 93.08 234.22
L 96.72 240.07
L 100.66 245.69
L 104.87 251.08
L 106.36 252.85
L 109.35 256.23
L 114.07 261.12
L 119.02 265.75
L 124.17 270.11
L 124.22 270.15
L 129.53 274.19
L 135.07 277.99
L 140.77 281.5
L 146.62 284.72
L 148.59 285.72
L 152.61 287.64
L 158.71 290.27
L 164.91 292.6
L 171.21 294.64
L 177.59 296.38
L 184.03 297.82
L 190.53 298.96
L 197.07 299.8
L 203.65 300.34
L 210.24 300.59
L 216.84 300.54
L 223.45 300.2
L 230.04 299.55
L 236.61 298.59
L 243.14 297.31
L 243.67 297.2
L 249.62 295.73
L 256.03 293.82
L 262.36 291.59
L 268.59 289.04
L 270.19 288.32
L 274.69 286.16
L 280.66 282.96
L 286.47 279.44
L 292.09 275.61
L 292.54 275.29
L 297.52 271.46
L 302.72 267.01
L 307.69 262.27
L 312.39 257.25
L 314.29 255.07
L 316.83 251.97
L 320.97 246.43
L 324.81 240.67
L 328.33 234.7
L 331.53 228.53
L 334.39 222.19
L 335.3 219.96
L 336.78 215.64
L 338.76 208.97
L 340.39 202.19
L 341.66 195.34
L 342.57 188.44
L 343.11 181.49
L 343.3 174.53
L 343.11 167.56
L 342.57 160.62
L 341.66 153.71
L 340.39 146.86
L 338.76 140.09
L 336.78 133.41
L 334.46 126.84
L 331.79 120.41
L 328.79 114.12
L 325.47 108
L 321.83 102.06
L 317.88 96.32
L 317.74 96.12
L 313.33 91.05
L 308.45 86.1
L 303.29 81.48
L 303.21 81.42
L 297.85 77.23
L 292.19 73.33
L 291.27 72.74
L 286.33 69.8
L 280.33 66.61
L 279.83 66.36
L 274.19 63.76
L 267.98 61.21
L 267.62 61.07
L 261.7 58.96
L 255.37 56.97
L 251.99 56
L 249 55.23
L 242.61 53.74
L 236.18 52.47
L 229.74 51.44
L 223.26 50.64
L 216.76 50.09
L 210.24 49.79
L 210.24 50.34
L 210.24 51.82
L 210.24 51.95
z
" clip-path="url(#pe13cb6048f)" style="fill: #70cf57; shape-rendering: crispEdges"/>
<path d="M 216.76 50.09
L 223.26 50.64
L 229.74 51.44
L 236.18 52.47
L 242.61 53.74
L 249 55.23
L 251.99 56
L 255.37 56.97
L 261.7 58.96
L 267.62 61.07
L 267.98 61.21
L 274.19 63.76
L 279.83 66.36
L 280.33 66.61
L 286.33 69.8
L 291.27 72.74
L 292.19 73.33
L 297.85 77.23
L 303.21 81.42
L 303.29 81.48
L 308.45 86.1
L 313.33 91.05
L 317.74 96.12
L 313.64 90.79
L 309.12 85.5
L 304.32 80.44
L 299.27 75.65
L 296.59 73.29
L 293.77 71.38
L 287.84 67.72
L 284.14 65.66
L 281.74 64.42
L 275.51 61.48
L 271.66 59.84
L 269.17 58.86
L 262.76 56.57
L 257.48 54.9
L 256.29 54.56
L 249.78 52.82
L 243.25 51.35
L 236.68 50.12
L 235.37 49.89
L 230.1 49.14
L 223.5 48.4
L 216.88 47.92
L 210.24 47.69
L 210.24 48.86
L 210.24 49.79
z
M 190.6 50.54
L 197.15 49.99
L 203.7 49.75
L 210.24 49.79
L 210.24 48.86
L 210.24 47.69
L 203.59 47.73
L 198.06 47.97
L 196.95 48.05
L 190.31 48.67
L 183.69 49.61
L 177.11 50.87
L 170.58 52.47
L 165.25 54.03
L 164.13 54.4
L 157.77 56.67
L 151.52 59.29
L 145.41 62.23
L 139.45 65.52
L 137.17 66.89
L 133.66 69.13
L 128.08 73.07
L 122.7 77.31
L 117.56 81.85
L 112.67 86.68
L 108.04 91.77
L 106.53 93.55
L 103.68 97.11
L 99.6 102.68
L 95.8 108.46
L 92.29 114.43
L 89.07 120.58
L 86.13 126.89
L 85.15 129.17
L 83.7 133.41
L 81.72 140.09
L 80.09 146.86
L 78.82 153.71
L 77.91 160.62
L 77.37 167.56
L 77.18 174.53
L 77.23 178.1
L 77.27 174.53
L 77.69 167.58
L 78.53 160.68
L 79.75 153.86
L 81.32 147.13
L 82.67 142.31
L 83.22 140.49
L 85.44 133.98
L 87.96 127.59
L 90.79 121.34
L 93.9 115.25
L 97.32 109.33
L 101.02 103.6
L 104.24 99.09
L 105.01 98.08
L 109.29 92.78
L 113.85 87.74
L 118.67 82.96
L 123.74 78.47
L 129.06 74.27
L 134.58 70.39
L 136.39 69.22
L 140.31 66.84
L 146.2 63.62
L 152.26 60.73
L 158.44 58.18
L 162.18 56.82
L 164.73 55.97
L 171.12 54.11
L 177.57 52.59
L 184.07 51.4
L 188.24 50.8
z
M 243.14 297.31
L 236.61 298.59
L 230.04 299.55
L 223.45 300.2
L 216.84 300.54
L 210.24 300.59
L 203.65 300.34
L 197.07 299.8
L 190.53 298.96
L 184.03 297.82
L 177.59 296.38
L 171.21 294.64
L 164.91 292.6
L 158.71 290.27
L 152.61 287.64
L 148.59 285.72
L 146.62 284.72
L 140.77 281.5
L 135.07 277.99
L 129.53 274.19
L 124.22 270.15
L 124.17 270.11
L 119.02 265.75
L 114.07 261.12
L 109.35 256.23
L 106.36 252.85
L 104.87 251.08
L 100.66 245.69
L 96.72 240.07
L 93.08 234.22
L 92.33 232.92
L 89.76 228.17
L 86.77 221.92
L 84.15 215.5
L 81.91 208.91
L 80.13 202.38
L 81.72 208.97
L 83.7 215.64
L 86.02 222.21
L 88.69 228.65
L 91.69 234.93
L 95.01 241.06
L 98.63 246.96
L 98.65 246.99
L 102.97 252.46
L 107.54 257.69
L 112.36 262.66
L 113.93 264.18
L 117.41 267.36
L 122.66 271.79
L 128.12 275.94
L 133.76 279.8
L 134.08 280.01
L 139.57 283.36
L 145.52 286.62
L 151.62 289.58
L 157.83 292.24
L 163.9 294.51
L 164.15 294.6
L 170.56 296.65
L 177.05 298.39
L 183.6 299.84
L 190.21 300.98
L 196.86 301.82
L 203.54 302.35
L 210.24 302.59
L 216.95 302.53
L 223.66 302.17
L 230.35 301.5
L 232.15 301.27
L 237.02 300.52
L 243.65 299.21
L 250.23 297.59
L 256.73 295.64
L 263.15 293.36
L 263.56 293.2
L 269.46 290.75
L 275.64 287.8
L 281.68 284.53
L 287.55 280.94
L 288.35 280.41
L 293.23 277.02
L 298.71 272.78
L 303.96 268.25
L 308.97 263.42
L 312.34 259.85
L 313.64 258.26
L 317.88 252.74
L 321.83 247
L 325.47 241.06
L 328.79 234.93
L 331.79 228.65
L 334.46 222.21
L 335.3 219.96
L 334.39 222.19
L 331.53 228.53
L 328.33 234.7
L 324.81 240.67
L 320.97 246.43
L 316.83 251.97
L 314.29 255.07
L 312.39 257.25
L 307.69 262.27
L 302.72 267.01
L 297.52 271.46
L 292.54 275.29
L 292.09 275.61
L 286.47 279.44
L 280.66 282.96
L 274.69 286.16
L 270.19 288.32
L 268.59 289.04
L 262.36 291.59
L 256.03 293.82
L 249.62 295.73
L 243.67 297.2
z
" clip-path="url(#pe13cb6048f)" style="fill: #86d549; shape-rendering: crispEdges"/>
<path d="M 216.88 47.92
L 223.5 48.4
L 230.1 49.14
L 235.37 49.89
L 236.68 50.12
L 243.25 51.35
L 249.78 52.82
L 256.29 54.56
L 257.48 54.9
L 262.76 56.57
L 269.17 58.86
L 271.66 59.84
L 275.51 61.48
L 281.74 64.42
L 284.14 65.66
L 287.84 67.72
L 293.77 71.38
L 296.59 73.29
L 293.97 71.12
L 288.45 66.88
L 282.71 62.94
L 277.03 59.45
L 276.75 59.33
L 270.3 56.65
L 263.77 54.29
L 263.37 54.15
L 257.18 52.26
L 250.53 50.51
L 246.5 49.58
L 243.86 49.05
L 237.17 47.86
L 230.45 46.92
L 223.72 46.24
L 216.99 45.82
L 210.24 45.66
L 210.24 45.91
L 210.24 47.39
L 210.24 47.69
z
M 203.59 47.73
L 210.24 47.69
L 210.24 47.39
L 210.24 45.91
L 210.24 45.66
L 203.49 45.77
L 196.75 46.17
L 190.02 46.87
L 183.32 47.88
L 176.66 49.21
L 170.06 50.87
L 168.35 51.36
L 163.54 52.87
L 157.12 55.21
L 150.81 57.89
L 144.63 60.9
L 138.62 64.24
L 137.21 65.08
L 132.77 67.9
L 127.13 71.89
L 121.69 76.19
L 116.49 80.77
L 111.52 85.64
L 107.32 90.2
L 106.84 90.79
L 102.6 96.32
L 98.65 102.06
L 95.01 108
L 91.69 114.12
L 88.69 120.41
L 86.02 126.84
L 85.15 129.17
L 86.13 126.89
L 89.07 120.58
L 92.29 114.43
L 95.8 108.46
L 99.6 102.68
L 103.68 97.11
L 106.53 93.55
L 108.04 91.77
L 112.67 86.68
L 117.56 81.85
L 122.7 77.31
L 128.08 73.07
L 133.66 69.13
L 137.17 66.89
L 139.45 65.52
L 145.41 62.23
L 151.52 59.29
L 157.77 56.67
L 164.13 54.4
L 165.25 54.03
L 170.58 52.47
L 177.11 50.87
L 183.69 49.61
L 190.31 48.67
L 196.95 48.05
L 198.06 47.97
z
M 230.35 301.5
L 223.66 302.17
L 216.95 302.53
L 210.24 302.59
L 203.54 302.35
L 196.86 301.82
L 190.21 300.98
L 183.6 299.84
L 177.05 298.39
L 170.56 296.65
L 164.15 294.6
L 163.9 294.51
L 157.83 292.24
L 151.62 289.58
L 145.52 286.62
L 139.57 283.36
L 134.08 280.01
L 133.76 279.8
L 128.12 275.94
L 122.66 271.79
L 117.41 267.36
L 113.93 264.18
L 112.36 262.66
L 107.54 257.69
L 102.97 252.46
L 98.65 246.99
L 98.63 246.96
L 98.65 247
L 102.6 252.74
L 106.84 258.26
L 111.36 263.56
L 116.16 268.61
L 121.21 273.41
L 121.36 273.54
L 126.75 277.63
L 132.48 281.55
L 138.39 285.17
L 144.44 288.49
L 144.79 288.67
L 150.64 291.5
L 156.96 294.2
L 163.38 296.59
L 169.9 298.67
L 176.5 300.43
L 183.17 301.89
L 189.89 303.03
L 190.97 303.19
L 196.65 303.87
L 203.43 304.41
L 208.99 304.62
L 210.24 304.64
L 217.05 304.56
L 223.87 304.18
L 230.67 303.49
L 237.44 302.47
L 244.16 301.13
L 250.83 299.46
L 255.39 298.12
L 257.43 297.46
L 263.93 295.11
L 270.32 292.43
L 276.57 289.42
L 282.68 286.07
L 283.75 285.44
L 288.45 282.17
L 293.97 277.93
L 299.27 273.41
L 304.32 268.61
L 309.12 263.56
L 312.34 259.85
L 308.97 263.42
L 303.96 268.25
L 298.71 272.78
L 293.23 277.02
L 288.35 280.41
L 287.55 280.94
L 281.68 284.53
L 275.64 287.8
L 269.46 290.75
L 263.56 293.2
L 263.15 293.36
L 256.73 295.64
L 250.23 297.59
L 243.65 299.21
L 237.02 300.52
L 232.15 301.27
z
" clip-path="url(#pe13cb6048f)" style="fill: #9bd93c; shape-rendering: crispEdges"/>
<path d="M 216.99 45.82
L 223.72 46.24
L 230.45 46.92
L 237.17 47.86
L 243.86 49.05
L 246.5 49.58
L 250.53 50.51
L 257.18 52.26
L 263.37 54.15
L 263.77 54.29
L 270.3 56.65
L 276.75 59.33
L 277.03 59.45
L 276.77 59.3
L 270.65 55.97
L 264.36 52.98
L 257.92 50.31
L 255.04 49.24
L 251.25 48.31
L 244.45 46.85
L 237.63 45.67
L 234.71 45.25
L 230.79 44.78
L 223.94 44.15
L 217.09 43.79
L 210.24 43.7
L 210.24 44.43
L 210.24 45.66
z
M 203.43 304.41
L 196.65 303.87
L 190.97 303.19
L 189.89 303.03
L 183.17 301.89
L 176.5 300.43
L 169.9 298.67
L 163.38 296.59
L 156.96 294.2
L 150.64 291.5
L 144.79 288.67
L 144.44 288.49
L 138.39 285.17
L 132.48 281.55
L 126.75 277.63
L 121.36 273.54
L 126.51 277.93
L 132.03 282.17
L 137.77 286.12
L 143.71 289.76
L 149.83 293.08
L 156.12 296.08
L 158.09 296.94
L 162.62 298.58
L 169.25 300.7
L 175.95 302.49
L 182.73 303.97
L 189.55 305.13
L 196.42 305.98
L 203.32 306.51
L 210.24 306.73
L 217.16 306.65
L 224.08 306.24
L 230.99 305.51
L 237.86 304.46
L 244.14 303.19
L 244.68 303.05
L 251.36 301.07
L 257.92 298.75
L 264.36 296.08
L 270.65 293.08
L 276.77 289.76
L 282.71 286.12
L 283.75 285.44
L 282.68 286.07
L 276.57 289.42
L 270.32 292.43
L 263.93 295.11
L 257.43 297.46
L 255.39 298.12
L 250.83 299.46
L 244.16 301.13
L 237.44 302.47
L 230.67 303.49
L 223.87 304.18
L 217.05 304.56
L 210.24 304.64
L 208.99 304.62
z
M 170.06 50.87
L 176.66 49.21
L 183.32 47.88
L 190.02 46.87
L 196.75 46.17
L 203.49 45.77
L 210.24 45.66
L 210.24 44.43
L 210.24 43.7
L 203.39 43.88
L 196.56 44.34
L 189.74 45.11
L 182.96 46.19
L 176.23 47.59
L 171.66 48.73
L 169.56 49.32
L 162.97 51.39
L 156.48 53.79
L 150.12 56.53
L 143.88 59.59
L 137.81 62.99
L 136.49 63.78
L 132.03 66.88
L 126.51 71.12
L 121.21 75.65
L 116.16 80.44
L 111.36 85.5
L 107.32 90.2
L 111.52 85.64
L 116.49 80.77
L 121.69 76.19
L 127.13 71.89
L 132.77 67.9
L 137.21 65.08
L 138.62 64.24
L 144.63 60.9
L 150.81 57.89
L 157.12 55.21
L 163.54 52.87
L 168.35 51.36
z
" clip-path="url(#pe13cb6048f)" style="fill: #b2dd2d; shape-rendering: crispEdges"/>
<path d="M 217.09 43.79
L 223.94 44.15
L 230.79 44.78
L 234.71 45.25
L 237.63 45.67
L 244.45 46.85
L 251.25 48.31
L 255.04 49.24
L 251.36 47.98
L 244.68 46.01
L 237.9 44.38
L 231.05 43.11
L 224.15 42.2
L 221.92 41.99
L 217.2 41.82
L 210.24 41.78
L 210.24 42.95
L 210.24 43.7
z
M 176.23 47.59
L 182.96 46.19
L 189.74 45.11
L 196.56 44.34
L 203.39 43.88
L 210.24 43.7
L 210.24 42.95
L 210.24 41.78
L 203.3 42.03
L 196.37 42.56
L 189.47 43.4
L 182.61 44.55
L 175.81 46.02
L 175.44 46.1
L 169.12 47.98
L 162.56 50.31
L 156.12 52.98
L 149.83 55.97
L 143.71 59.3
L 137.77 62.94
L 136.49 63.78
L 137.81 62.99
L 143.88 59.59
L 150.12 56.53
L 156.48 53.79
L 162.97 51.39
L 169.56 49.32
L 171.66 48.73
z
M 237.86 304.46
L 230.99 305.51
L 224.08 306.24
L 217.16 306.65
L 210.24 306.73
L 203.32 306.51
L 196.42 305.98
L 189.55 305.13
L 182.73 303.97
L 175.95 302.49
L 169.25 300.7
L 162.62 298.58
L 158.09 296.94
L 162.56 298.75
L 169.12 301.07
L 175.8 303.05
L 182.58 304.68
L 189.43 305.95
L 196.33 306.86
L 203.28 307.4
L 210.24 307.58
L 217.2 307.4
L 224.15 306.86
L 231.05 305.95
L 237.9 304.68
L 244.14 303.19
z
" clip-path="url(#pe13cb6048f)" style="fill: #c8e020; shape-rendering: crispEdges"/>
<path d="M 217.2 41.82
L 221.92 41.99
L 217.2 41.65
L 210.24 41.47
L 210.24 41.78
z
M 175.81 46.02
L 182.61 44.55
L 189.47 43.4
L 196.37 42.56
L 203.3 42.03
L 210.24 41.78
L 210.24 41.47
L 203.28 41.65
L 196.33 42.2
L 189.43 43.11
L 182.58 44.38
L 175.8 46.01
L 175.44 46.1
z
" clip-path="url(#pe13cb6048f)" style="fill: #dfe318; shape-rendering: crispEdges"/>
<path clip-path="url(#pe13cb6048f)" style="fill: #f4e61e; shape-rendering: crispEdges"/>
</g>
<g id="matplotlib.axis_1">
<g id="xtick_1">
<g id="line2d_1">
<path d="M 210.600 174.53
L 210.600 41.47
" clip-path="url(#pe13cb6048f)" style="fill: none; stroke: #b0b0b0; stroke-width: 0.8; stroke-linecap: square"/>
</g>
<g id="text_1">
<text style="font-size: 10.6px; font-family: 'Liberation Sans', sans-serif; text-anchor: middle" x="210.24" y="30.23" transform="rotate(-0 210.24 30.23)" textLength="11.36" lengthAdjust="spacingAndGlyphs">0°</text>
</g>
</g>
<g id="xtick_2">
<g id="line2d_2">
<path d="M 210.24 174.53
L 304.32 80.44
" clip-path="url(#pe13cb6048f)" style="fill: none; stroke: #b0b0b0; stroke-width: 0.8; stroke-linecap: square"/>
</g>
<g id="text_2">
<text style="font-size: 10.6px; font-family: 'Liberation Sans', sans-serif; text-anchor: middle" x="314.22" y="73.3" transform="rotate(-0 314.22 73.3)" textLength="17.73" lengthAdjust="spacingAndGlyphs">45°</text>
</g>
</g>
<g id="xtick_3">
<g id="line2d_3">
<path d="M 210.24 174.600
L 343.3 174.600
" clip-path="url(#pe13cb6048f)" style="fill: none; stroke: #b0b0b0; stroke-width: 0.8; stroke-linecap: square"/>
</g>
<g id="text_3">
<text style="font-size: 10.6px; font-family: 'Liberation Sans', sans-serif; text-anchor: middle" x="357.3" y="177.29" transform="rotate(-0 357.3 177.29)" textLength="17.73" lengthAdjust="spacingAndGlyphs">90°</text>
</g>
</g>
<g id="xtick_4">
<g id="line2d_4">
<path d="M 210.24 174.53
L 304.32 268.61
" clip-path="url(#pe13cb6048f)" style="fill: none; stroke: #b0b0b0; stroke-width: 0.8; stroke-linecap: square"/>
</g>
<g id="text_4">
<text style="font-size: 10.6px; font-family: 'Liberation Sans', sans-serif; text-anchor: middle" x="314.22" y="281.27" transform="rotate(-0 314.22 281.27)" textLength="24.09" lengthAdjust="spacingAndGlyphs">135°</text>
</g>
</g>
<g id="xtick_5">
<g id="line2d_5">
<path d="M 210.600 174.53
L 210.600 307.58
" clip-path="url(#pe13cb6048f)" style="fill: none; stroke: #b0b0b0; stroke-width: 0.8; stroke-linecap: square"/>
</g>
<g id="text_5">
<text style="font-size: 10.6px; font-family: 'Liberation Sans', sans-serif; text-anchor: middle" x="210.24" y="324.34" transform="rotate(-0 210.24 324.34)" textLength="24.09" lengthAdjust="spacingAndGlyphs">180°</text>
</g>
</g>
<g id="xtick_6">
<g id="line2d_6">
<path d="M 210.24 174.53
L 116.16 268.61
" clip-path="url(#pe13cb6048f)" style="fill: none; stroke: #b0b0b0; stroke-width: 0.8; stroke-linecap: square"/>
</g>
<g id="text_6">
<text style="font-size: 10.6px; font-family: 'Liberation Sans', sans-serif; text-anchor: middle" x="106.26" y="281.27" transform="rotate(-0 106.26 281.27)" textLength="24.09" lengthAdjust="spacingAndGlyphs">225°</text>
</g>
</g>
<g id="xtick_7">
<g id="line2d_7">
<path d="M 210.24 174.600
L 77.18 174.600
" clip-path="url(#pe13cb6048f)" style="fill: none; stroke: #b0b0b0; stroke-width: 0.8; stroke-linecap: square"/>
</g>
<g id="text_7">
<text style="font-size: 10.6px; font-family: 'Liberation Sans', sans-serif; text-anchor: middle" x="63.18" y="177.29" transform="rotate(-0 63.18 177.29)" textLength="24.09" lengthAdjust="spacingAndGlyphs">270°</text>
</g>
</g>
<g id="xtick_8">
<g id="line2d_8">
<path d="M 210.24 174.53
L 116.16 80.44
" clip-path="url(#pe13cb6048f)" style="fill: none; stroke: #b0b0b0; stroke-width: 0.8; stroke-linecap: square"/>
</g>
<g id="text_8">
<text style="font-size: 10.6px; font-family: 'Liberation Sans', sans-serif; text-anchor: middle" x="106.26" y="73.3" transform="rotate(-0 106.26 73.3)" textLength="24.09" lengthAdjust="spacingAndGlyphs">315°</text>
</g>
</g>
</g>
<g id="matplotlib.axis_2">
<g id="ytick_1">
<g id="line2d_9">
<path d="M 210.24 159.74
C 212.18 159.74 214.1 160.13 215.9 160.87
C 217.69 161.61 219.32 162.7 220.69 164.07
C 222.07 165.45 223.16 167.08 223.9 168.87
C 224.64 170.66 225.02 172.59 225.02 174.53
C 225.02 176.47 224.64 178.39 223.9 180.19
C 223.16 181.98 222.07 183.61 220.69 184.98
C 219.32 186.35 217.69 187.44 215.9 188.19
C 214.1 188.93 212.18 189.31 210.24 189.31
C 208.3 189.31 206.38 188.93 204.58 188.19
C 202.79 187.44 201.16 186.35 199.79 184.98
C 198.41 183.61 197.32 181.98 196.58 180.19
C 195.84 178.39 195.46 176.47 195.46 174.53
C 195.46 172.59 195.84 170.66 196.58 168.87
C 197.32 167.08 198.41 165.45 199.79 164.07
C 201.16 162.7 202.79 161.61 204.58 160.87
C 206.38 160.13 208.3 159.74 210.24 159.74
" clip-path="url(#pe13cb6048f)" style="fill: none; stroke: #b0b0b0; stroke-width: 0.8; stroke-linecap: square"/>
</g>
<g id="text_9">
<text style="font-size: 10.6px; font-family: 'Liberation Sans', sans-serif; text-anchor: start" x="215.9" y="158.79" transform="rotate(-0 215.9 158.79)" textLength="12.72" lengthAdjust="spacingAndGlyphs">10</text>
</g>
</g>
<g id="ytick_2">
<g id="line2d_10">
<path d="M 210.24 144.96
C 214.12 144.96 217.97 145.72 221.56 147.21
C 225.14 148.7 228.4 150.87 231.15 153.62
C 233.89 156.37 236.07 159.63 237.56 163.21
C 239.04 166.8 239.81 170.65 239.81 174.53
C 239.81 178.41 239.04 182.26 237.56 185.84
C 236.07 189.43 233.89 192.69 231.15 195.44
C 228.4 198.18 225.14 200.36 221.56 201.85
C 217.97 203.33 214.12 204.1 210.24 204.1
C 206.36 204.1 202.51 203.33 198.92 201.85
C 195.34 200.36 192.08 198.18 189.33 195.44
C 186.59 192.69 184.41 189.43 182.92 185.84
C 181.44 182.26 180.67 178.41 180.67 174.53
C 180.67 170.65 181.44 166.8 182.92 163.21
C 184.41 159.63 186.59 156.37 189.33 153.62
C 192.08 150.87 195.34 148.7 198.92 147.21
C 202.51 145.72 206.36 144.96 210.24 144.96
" clip-path="url(#pe13cb6048f)" style="fill: none; stroke: #b0b0b0; stroke-width: 0.8; stroke-linecap: square"/>
</g>
<g id="text_10">
<text style="font-size: 10.6px; font-family: 'Liberation Sans', sans-serif; text-anchor: start" x="221.56" y="145.13" transform="rotate(-0 221.56 145.13)" textLength="12.72" lengthAdjust="spacingAndGlyphs">20</text>
</g>
</g>
<g id="ytick_3">
<g id="line2d_11">
<path d="M 210.24 130.18
C 216.06 130.18 221.83 131.32 227.21 133.55
C 232.59 135.78 237.48 139.05 241.6 143.17
C 245.72 147.28 248.99 152.17 251.22 157.56
C 253.44 162.94 254.59 168.7 254.59 174.53
C 254.59 180.35 253.44 186.12 251.22 191.5
C 248.99 196.88 245.72 201.77 241.6 205.89
C 237.48 210.01 232.59 213.28 227.21 215.5
C 221.83 217.73 216.06 218.88 210.24 218.88
C 204.42 218.88 198.65 217.73 193.27 215.5
C 187.89 213.28 183 210.01 178.88 205.89
C 174.76 201.77 171.49 196.88 169.26 191.5
C 167.04 186.12 165.89 180.35 165.89 174.53
C 165.89 168.7 167.04 162.94 169.26 157.56
C 171.49 152.17 174.76 147.28 178.88 143.17
C 183 139.05 187.89 135.78 193.27 133.55
C 198.65 131.32 204.42 130.18 210.24 130.18
" clip-path="url(#pe13cb6048f)" style="fill: none; stroke: #b0b0b0; stroke-width: 0.8; stroke-linecap: square"/>
</g>
<g id="text_11">
<text style="font-size: 10.6px; font-family: 'Liberation Sans', sans-serif; text-anchor: start" x="227.21" y="131.47" transform="rotate(-0 227.21 131.47)" textLength="12.72" lengthAdjust="spacingAndGlyphs">30</text>
</g>
</g>
<g id="ytick_4">
<g id="line2d_12">
<path d="M 210.24 115.39
C 218.01 115.39 225.7 116.92 232.87 119.89
C 240.04 122.87 246.56 127.22 252.06 132.71
C 257.55 138.2 261.9 144.72 264.87 151.9
C 267.85 159.07 269.38 166.76 269.38 174.53
C 269.38 182.29 267.85 189.98 264.87 197.16
C 261.9 204.33 257.55 210.85 252.06 216.34
C 246.56 221.83 240.04 226.19 232.87 229.16
C 225.7 232.13 218.01 233.66 210.24 233.66
C 202.47 233.66 194.78 232.13 187.61 229.16
C 180.44 226.19 173.92 221.83 168.42 216.34
C 162.93 210.85 158.58 204.33 155.61 197.16
C 152.63 189.98 151.1 182.29 151.1 174.53
C 151.1 166.76 152.63 159.07 155.61 151.9
C 158.58 144.72 162.93 138.2 168.42 132.71
C 173.92 127.22 180.44 122.87 187.61 119.89
C 194.78 116.92 202.47 115.39 210.24 115.39
" clip-path="url(#pe13cb6048f)" style="fill: none; stroke: #b0b0b0; stroke-width: 0.8; stroke-linecap: square"/>
</g>
<g id="text_12">
<text style="font-size: 10.6px; font-family: 'Liberation Sans', sans-serif; text-anchor: start" x="232.87" y="117.81" transform="rotate(-0 232.87 117.81)" textLength="12.72" lengthAdjust="spacingAndGlyphs">40</text>
</g>
</g>
<g id="ytick_5">
<g id="line2d_13">
<path d="M 210.24 100.61
C 219.95 100.61 229.56 102.52 238.53 106.23
C 247.5 109.95 255.65 115.39 262.51 122.26
C 269.37 129.12 274.82 137.27 278.53 146.24
C 282.25 155.21 284.16 164.82 284.16 174.53
C 284.16 184.24 282.25 193.85 278.53 202.82
C 274.82 211.78 269.37 219.93 262.51 226.8
C 255.65 233.66 247.5 239.11 238.53 242.82
C 229.56 246.54 219.95 248.45 210.24 248.45
C 200.53 248.45 190.92 246.54 181.95 242.82
C 172.98 239.11 164.83 233.66 157.97 226.8
C 151.11 219.93 145.66 211.78 141.95 202.82
C 138.23 193.85 136.32 184.24 136.32 174.53
C 136.32 164.82 138.23 155.21 141.95 146.24
C 145.66 137.27 151.11 129.12 157.97 122.26
C 164.83 115.39 172.98 109.95 181.95 106.23
C 190.92 102.52 200.53 100.61 210.24 100.61
" clip-path="url(#pe13cb6048f)" style="fill: none; stroke: #b0b0b0; stroke-width: 0.8; stroke-linecap: square"/>
</g>
<g id="text_13">
<text style="font-size: 10.6px; font-family: 'Liberation Sans', sans-serif; text-anchor: start" x="238.53" y="104.16" transform="rotate(-0 238.53 104.16)" textLength="12.72" lengthAdjust="spacingAndGlyphs">50</text>
</g>
</g>
<g id="ytick_6">
<g id="line2d_14">
<path d="M 210.24 85.82
C 221.89 85.82 233.42 88.12 244.19 92.58
C 254.95 97.03 264.73 103.57 272.96 111.8
C 281.2 120.04 287.73 129.82 292.19 140.58
C 296.65 151.34 298.94 162.88 298.94 174.53
C 298.94 186.18 296.65 197.71 292.19 208.47
C 287.73 219.24 281.2 229.01 272.96 237.25
C 264.73 245.49 254.95 252.02 244.19 256.48
C 233.42 260.94 221.89 263.23 210.24 263.23
C 198.59 263.23 187.06 260.94 176.29 256.48
C 165.53 252.02 155.75 245.49 147.52 237.25
C 139.28 229.01 132.75 219.24 128.29 208.47
C 123.83 197.71 121.54 186.18 121.54 174.53
C 121.54 162.88 123.83 151.34 128.29 140.58
C 132.75 129.82 139.28 120.04 147.52 111.8
C 155.75 103.57 165.53 97.03 176.29 92.58
C 187.06 88.12 198.59 85.82 210.24 85.82
" clip-path="url(#pe13cb6048f)" style="fill: none; stroke: #b0b0b0; stroke-width: 0.8; stroke-linecap: square"/>
</g>
<g id="text_14">
<text style="font-size: 10.6px; font-family: 'Liberation Sans', sans-serif; text-anchor: start" x="244.19" y="90.5" transform="rotate(-0 244.19 90.5)" textLength="12.72" lengthAdjust="spacingAndGlyphs">60</text>
</g>
</g>
<g id="ytick_7">
<g id="line2d_15">
<path d="M 210.24 71.04
C 223.83 71.04 237.29 73.72 249.84 78.92
C 262.4 84.12 273.81 91.74 283.42 101.35
C 293.03 110.96 300.65 122.37 305.85 134.92
C 311.05 147.48 313.73 160.94 313.73 174.53
C 313.73 188.12 311.05 201.58 305.85 214.13
C 300.65 226.69 293.03 238.1 283.42 247.71
C 273.81 257.31 262.4 264.94 249.84 270.14
C 237.29 275.34 223.83 278.02 210.24 278.02
C 196.65 278.02 183.19 275.34 170.64 270.14
C 158.08 264.94 146.67 257.31 137.06 247.71
C 127.45 238.1 119.83 226.69 114.63 214.13
C 109.43 201.58 106.75 188.12 106.75 174.53
C 106.75 160.94 109.43 147.48 114.63 134.92
C 119.83 122.37 127.45 110.96 137.06 101.35
C 146.67 91.74 158.08 84.12 170.64 78.92
C 183.19 73.72 196.65 71.04 210.24 71.04
" clip-path="url(#pe13cb6048f)" style="fill: none; stroke: #b0b0b0; stroke-width: 0.8; stroke-linecap: square"/>
</g>
<g id="text_15">
<text style="font-size: 10.6px; font-family: 'Liberation Sans', sans-serif; text-anchor: start" x="249.84" y="76.84" transform="rotate(-0 249.84 76.84)" textLength="12.72" lengthAdjust="spacingAndGlyphs">70</text>
</g>
</g>
<g id="ytick_8">
<g id="line2d_16">
<path d="M 210.24 56.26
C 225.77 56.26 241.15 59.32 255.5 65.26
C 269.85 71.2 282.89 79.91 293.87 90.9
C 304.85 101.88 313.57 114.92 319.51 129.27
C 325.45 143.62 328.51 159 328.51 174.53
C 328.51 190.06 325.45 205.44 319.51 219.79
C 313.57 234.14 304.85 247.18 293.87 258.16
C 282.89 269.14 269.85 277.85 255.5 283.8
C 241.15 289.74 225.77 292.8 210.24 292.8
C 194.71 292.8 179.33 289.74 164.98 283.8
C 150.63 277.85 137.59 269.14 126.61 258.16
C 115.63 247.18 106.91 234.14 100.97 219.79
C 95.03 205.44 91.97 190.06 91.97 174.53
C 91.97 159 95.03 143.62 100.97 129.27
C 106.91 114.92 115.63 101.88 126.61 90.9
C 137.59 79.91 150.63 71.2 164.98 65.26
C 179.33 59.32 194.71 56.26 210.24 56.26
" clip-path="url(#pe13cb6048f)" style="fill: none; stroke: #b0b0b0; stroke-width: 0.8; stroke-linecap: square"/>
</g>
<g id="text_16">
<text style="font-size: 10.6px; font-family: 'Liberation Sans', sans-serif; text-anchor: start" x="255.5" y="63.18" transform="rotate(-0 255.5 63.18)" textLength="12.72" lengthAdjust="spacingAndGlyphs">80</text>
</g>
</g>
<g id="ytick_9">
<g id="line2d_17">
<path d="M 210.24 41.47
C 227.71 41.47 245.02 44.91 261.16 51.6
C 277.3 58.29 291.97 68.09 304.32 80.44
C 316.68 92.8 326.48 107.47 333.17 123.61
C 339.85 139.75 343.3 157.06 343.3 174.53
C 343.3 192 339.85 209.3 333.17 225.45
C 326.48 241.59 316.68 256.26 304.32 268.61
C 291.97 280.97 277.3 290.77 261.16 297.46
C 245.02 304.14 227.71 307.58 210.24 307.58
C 192.77 307.58 175.46 304.14 159.32 297.46
C 143.18 290.77 128.51 280.97 116.16 268.61
C 103.8 256.26 94 241.59 87.31 225.45
C 80.63 209.3 77.18 192 77.18 174.53
C 77.18 157.06 80.63 139.75 87.31 123.61
C 94 107.47 103.8 92.8 116.16 80.44
C 128.51 68.09 143.18 58.29 159.32 51.6
C 175.46 44.91 192.77 41.47 210.24 41.47
" clip-path="url(#pe13cb6048f)" style="fill: none; stroke: #b0b0b0; stroke-width: 0.8; stroke-linecap: square"/>
</g>
<g id="text_17">
<text style="font-size: 10.6px; font-family: 'Liberation Sans', sans-serif; text-anchor: start" x="261.16" y="49.52" transform="rotate(-0 261.16 49.52)" textLength="12.72" lengthAdjust="spacingAndGlyphs">90</text>
</g>
</g>
</g>
<g id="patch_3">
<path d="M 210.24 41.47
C 192.77 41.47 175.46 44.91 159.32 51.6
C 143.18 58.29 128.51 68.09 116.16 80.44
C 103.8 92.8 94 107.47 87.31 123.61
C 80.63 139.75 77.18 157.06 77.18 174.53
C 77.18 192 80.63 209.3 87.31 225.45
C 94 241.59 103.8 256.26 116.16 268.61
C 128.51 280.97 143.18 290.77 159.32 297.46
C 175.46 304.14 192.77 307.58 210.24 307.58
C 227.71 307.58 245.02 304.14 261.16 297.46
C 277.3 290.77 291.97 280.97 304.32 268.61
C 316.68 256.26 326.48 241.59 333.17 225.45
C 339.85 209.3 343.3 192 343.3 174.53
C 343.3 157.06 339.85 139.75 333.17 123.61
C 326.48 107.47 316.68 92.8 304.32 80.44
C 291.97 68.09 277.3 58.29 261.16 51.6
C 245.02 44.91 227.71 41.47 210.24 41.47
" style="fill: none; stroke: #000000; stroke-width: 0.8; stroke-linejoin: miter; stroke-linecap: square"/>
</g>
<g id="text_18">
<text style="font-size: 12.72px; font-family: 'Liberation Sans', sans-serif; text-anchor: middle" x="210.24" y="16.63" transform="rotate(-0 210.24 16.63)" textLength="322.84" lengthAdjust="spacingAndGlyphs">Antenna Phase Biases: AERAT2775_43    SPKE GPS-L2</text>
</g>
</g>
<g id="axes_2">
<g id="patch_4">
<path d="M 361.8 307.8
L 374.76 307.8
L 374.76 42.12
L 361.8 42.12
z
" style="fill: #ffffff"/>
</g>
<g id="QuadMesh_1">
<path d="M 361.8 307.8
L 374.76 307.8
L 374.76 298.71
L 361.8 298.71
L 361.8 307.8
" clip-path="url(#pc23deff0f2)" style="fill: #46075a; shape-rendering: crispEdges"/>
<path d="M 361.8 298.71
L 374.76 298.71
L 374.76 289.84
L 361.8 289.84
L 361.8 298.71
" clip-path="url(#pc23deff0f2)" style="fill: #471365; shape-rendering: crispEdges"/>
<path d="M 361.8 289.84
L 374.76 289.84
L 374.76 280.97
L 361.8 280.97
L 361.8 289.84
" clip-path="url(#pc23deff0f2)" style="fill: #481f70; shape-rendering: crispEdges"/>
<path d="M 361.8 280.97
L 374.76 280.97
L 374.76 272.1
L 361.8 272.1
L 361.8 280.97
" clip-path="url(#pc23deff0f2)" style="fill: #482979; shape-rendering: crispEdges"/>
<path d="M 361.8 272.1
L 374.76 272.1
L 374.76 263.23
L 361.8 263.23
L 361.8 272.1
" clip-path="url(#pc23deff0f2)" style="fill: #463480; shape-rendering: crispEdges"/>
<path d="M 361.8 263.23
L 374.76 263.23
L 374.76 254.36
L 361.8 254.36
L 361.8 263.23
" clip-path="url(#pc23deff0f2)" style="fill: #433e85; shape-rendering: crispEdges"/>
<path d="M 361.8 254.36
L 374.76 254.36
L 374.76 245.49
L 361.8 245.49
L 361.8 254.36
" clip-path="url(#pc23deff0f2)" style="fill: #3f4889; shape-rendering: crispEdges"/>
<path d="M 361.8 245.49
L 374.76 245.49
L 374.76 236.62
L 361.8 236.62
L 361.8 245.49
" clip-path="url(#pc23deff0f2)" style="fill: #3b528b; shape-rendering: crispEdges"/>
<path d="M 361.8 236.62
L 374.76 236.62
L 374.76 227.75
L 361.8 227.75
L 361.8 236.62
" clip-path="url(#pc23deff0f2)" style="fill: #375b8d; shape-rendering: crispEdges"/>
<path d="M 361.8 227.75
L 374.76 227.75
L 374.76 218.88
L 361.8 218.88
L 361.8 227.75
" clip-path="url(#pc23deff0f2)" style="fill: #32648e; shape-rendering: crispEdges"/>
<path d="M 361.8 218.88
L 374.76 218.88
L 374.76 210.01
L 361.8 210.01
L 361.8 218.88
" clip-path="url(#pc23deff0f2)" style="fill: #2f6c8e; shape-rendering: crispEdges"/>
<path d="M 361.8 210.01
L 374.76 210.01
L 374.76 201.14
L 361.8 201.14
L 361.8 210.01
" clip-path="url(#pc23deff0f2)" style="fill: #2b748e; shape-rendering: crispEdges"/>
<path d="M 361.8 201.14
L 374.76 201.14
L 374.76 192.27
L 361.8 192.27
L 361.8 201.14
" clip-path="url(#pc23deff0f2)" style="fill: #287c8e; shape-rendering: crispEdges"/>
<path d="M 361.8 192.27
L 374.76 192.27
L 374.76 183.4
L 361.8 183.4
L 361.8 192.27
" clip-path="url(#pc23deff0f2)" style="fill: #25848e; shape-rendering: crispEdges"/>
<path d="M 361.8 183.4
L 374.76 183.4
L 374.76 174.53
L 361.8 174.53
L 361.8 183.4
" clip-path="url(#pc23deff0f2)" style="fill: #228c8d; shape-rendering: crispEdges"/>
<path d="M 361.8 174.53
L 374.76 174.53
L 374.76 165.66
L 361.8 165.66
L 361.8 174.53
" clip-path="url(#pc23deff0f2)" style="fill: #1f948c; shape-rendering: crispEdges"/>
<path d="M 361.8 165.66
L 374.76 165.66
L 374.76 156.79
L 361.8 156.79
L 361.8 165.66
" clip-path="url(#pc23deff0f2)" style="fill: #1e9c89; shape-rendering: crispEdges"/>
<path d="M 361.8 156.79
L 374.76 156.79
L 374.76 147.92
L 361.8 147.92
L 361.8 156.79
" clip-path="url(#pc23deff0f2)" style="fill: #20a486; shape-rendering: crispEdges"/>
<path d="M 361.8 147.92
L 374.76 147.92
L 374.76 139.05
L 361.8 139.05
L 361.8 147.92
" clip-path="url(#pc23deff0f2)" style="fill: #25ac82; shape-rendering: crispEdges"/>
<path d="M 361.8 139.05
L 374.76 139.05
L 374.76 130.18
L 361.8 130.18
L 361.8 139.05
" clip-path="url(#pc23deff0f2)" style="fill: #2fb47c; shape-rendering: crispEdges"/>
<path d="M 361.8 130.18
L 374.76 130.18
L 374.76 121.31
L 361.8 121.31
L 361.8 130.18
" clip-path="url(#pc23deff0f2)" style="fill: #3bbb75; shape-rendering: crispEdges"/>
<path d="M 361.8 121.31
L 374.76 121.31
L 374.76 112.44
L 361.8 112.44
L 361.8 121.31
" clip-path="url(#pc23deff0f2)" style="fill: #4cc26c; shape-rendering: crispEdges"/>
<path d="M 361.8 112.44
L 374.76 112.44
L 374.76 103.56
L 361.8 103.56
L 361.8 112.44
" clip-path="url(#pc23deff0f2)" style="fill: #5ec962; shape-rendering: crispEdges"/>
<path d="M 361.8 103.56
L 374.76 103.56
L 374.76 94.69
L 361.8 94.69
L 361.8 103.56
" clip-path="url(#pc23deff0f2)" style="fill: #70cf57; shape-rendering: crispEdges"/>
<path d="M 361.8 94.69
L 374.76 94.69
L 374.76 85.82
L 361.8 85.82
L 361.8 94.69
" clip-path="url(#pc23deff0f2)" style="fill: #86d549; shape-rendering: crispEdges"/>
<path d="M 361.8 85.82
L 374.76 85.82
L 374.76 76.95
L 361.8 76.95
L 361.8 85.82
" clip-path="url(#pc23deff0f2)" style="fill: #9bd93c; shape-rendering: crispEdges"/>
<path d="M 361.8 76.95
L 374.76 76.95
L 374.76 68.08
L 361.8 68.08
L 361.8 76.95
" clip-path="url(#pc23deff0f2)" style="fill: #b2dd2d; shape-rendering: crispEdges"/>
<path d="M 361.8 68.08
L 374.76 68.08
L 374.76 59.21
L 361.8 59.21
L 361.8 68.08
" clip-path="url(#pc23deff0f2)" style="fill: #c8e020; shape-rendering: crispEdges"/>
<path d="M 361.8 59.21
L 374.76 59.21
L 374.76 50.34
L 361.8 50.34
L 361.8 59.21
" clip-path="url(#pc23deff0f2)" style="fill: #dfe318; shape-rendering: crispEdges"/>
<path d="M 361.8 50.34
L 374.76 50.34
L 374.76 42.12
L 361.8 42.12
L 361.8 50.34
" clip-path="url(#pc23deff0f2)" style="fill: #f4e61e; shape-rendering: crispEdges"/>
</g>
<g id="matplotlib.axis_3"/>
<g id="matplotlib.axis_4">
<g id="ytick_10">
<g id="line2d_18">
<defs>
<path id="mfc93cfbd12" d="M 0 0
L 3.5 0
" style="stroke: #000000; stroke-width: 0.8"/>
</defs>
<g>
<use href="#mfc93cfbd12" x="374.76" y="281.160" style="stroke: #000000; stroke-width: 0.8"/>
</g>
</g>
<g id="text_19">
<text style="font-size: 10.6px; font-family: 'Liberation Sans', sans-serif; text-anchor: start" x="381.46" y="284.77" transform="rotate(-0 381.46 284.77)" textLength="21.1" lengthAdjust="spacingAndGlyphs">−12</text>
</g>
</g>
<g id="ytick_11">
<g id="line2d_19">
<g>
<use href="#mfc93cfbd12" x="374.76" y="245.880" style="stroke: #000000; stroke-width: 0.8"/>
</g>
</g>
<g id="text_20">
<text style="font-size: 10.6px; font-family: 'Liberation Sans', sans-serif; text-anchor: start" x="381.46" y="249.29" transform="rotate(-0 381.46 249.29)" textLength="14.74" lengthAdjust="spacingAndGlyphs">−8</text>
</g>
</g>
<g id="ytick_12">
<g id="line2d_20">
<g>
<use href="#mfc93cfbd12" x="374.76" y="210.600" style="stroke: #000000; stroke-width: 0.8"/>
</g>
</g>
<g id="text_21">
<text style="font-size: 10.6px; font-family: 'Liberation Sans', sans-serif; text-anchor: start" x="381.46" y="213.81" transform="rotate(-0 381.46 213.81)" textLength="14.74" lengthAdjust="spacingAndGlyphs">−4</text>
</g>
</g>
<g id="ytick_13">
<g id="line2d_21">
<g>
<use href="#mfc93cfbd12" x="374.76" y="174.600" style="stroke: #000000; stroke-width: 0.8"/>
</g>
</g>
<g id="text_22">
<text style="font-size: 10.6px; font-family: 'Liberation Sans', sans-serif; text-anchor: start" x="381.46" y="178.33" transform="rotate(-0 381.46 178.33)" textLength="6.36" lengthAdjust="spacingAndGlyphs">0</text>
</g>
</g>
<g id="ytick_14">
<g id="line2d_22">
<g>
<use href="#mfc93cfbd12" x="374.76" y="139.320" style="stroke: #000000; stroke-width: 0.8"/>
</g>
</g>
<g id="text_23">
<text style="font-size: 10.6px; font-family: 'Liberation Sans', sans-serif; text-anchor: start" x="381.46" y="142.85" transform="rotate(-0 381.46 142.85)" textLength="6.36" lengthAdjust="spacingAndGlyphs">4</text>
</g>
</g>
<g id="ytick_15">
<g id="line2d_23">
<g>
<use href="#mfc93cfbd12" x="374.76" y="104.040" style="stroke: #000000; stroke-width: 0.8"/>
</g>
</g>
<g id="text_24">
<text style="font-size: 10.6px; font-family: 'Liberation Sans', sans-serif; text-anchor: start" x="381.46" y="107.36" transform="rotate(-0 381.46 107.36)" textLength="6.36" lengthAdjust="spacingAndGlyphs">8</text>
</g>
</g>
<g id="ytick_16">
<g id="line2d_24">
<g>
<use href="#mfc93cfbd12" x="374.76" y="68.760" style="stroke: #000000; stroke-width: 0.8"/>
</g>
</g>
<g id="text_25">
<text style="font-size: 10.6px; font-family: 'Liberation Sans', sans-serif; text-anchor: start" x="381.46" y="71.88" transform="rotate(-0 381.46 71.88)" textLength="12.72" lengthAdjust="spacingAndGlyphs">12</text>
</g>
</g>
<g id="text_26">
<text style="font-size: 10.6px; font-family: 'Liberation Sans', sans-serif; text-anchor: middle" x="414.16" y="174.53" transform="rotate(-90 414.16 174.53)" textLength="51.44" lengthAdjust="spacingAndGlyphs">Bias (mm)</text>
</g>
</g>
<g id="LineCollection_1"/>
<g id="patch_5">
<path d="M 361.8 307.8
L 367.8 307.8
L 374.76 307.8
L 374.76 42.12
L 367.8 42.12
L 361.8 42.12
L 361.8 307.8
z
" style="fill: none; stroke: #000000; stroke-width: 0.8; stroke-linejoin: miter; stroke-linecap: square"/>
</g>
</g>
</g>
<defs>
<clipPath id="pe13cb6048f">
<path d="M 343.3 174.53
C 343.3 157.06 339.85 139.75 333.17 123.61
C 326.48 107.47 316.68 92.8 304.32 80.44
C 291.97 68.09 277.3 58.29 261.16 51.6
C 245.02 44.91 227.71 42.12 210.24 42.12
C 192.77 42.12 175.46 44.91 159.32 51.6
C 143.18 58.29 128.51 68.09 116.16 80.44
C 103.8 92.8 94 107.47 87.31 123.61
C 80.63 139.75 77.18 157.06 77.18 174.53
C 77.18 192 80.63 209.3 87.31 225.45
C 94 241.59 103.8 256.26 116.16 268.61
C 128.51 280.97 143.18 290.77 159.32 297.46
C 175.46 304.14 192.77 307.8 210.24 307.8
C 227.71 307.8 245.02 304.14 261.16 297.46
C 277.3 290.77 291.97 280.97 304.32 268.61
C 316.68 256.26 326.48 241.59 333.17 225.45
C 339.85 209.3 343.3 192 343.3 174.53
M 210.24 174.53
C 210.24 174.53 210.24 174.53 210.24 174.53
C 210.24 174.53 210.24 174.53 210.24 174.53
C 210.24 174.53 210.24 174.53 210.24 174.53
C 210.24 174.53 210.24 174.53 210.24 174.53
C 210.24 174.53 210.24 174.53 210.24 174.53
C 210.24 174.53 210.24 174.53 210.24 174.53
C 210.24 174.53 210.24 174.53 210.24 174.53
C 210.24 174.53 210.24 174.53 210.24 174.53
C 210.24 174.53 210.24 174.53 210.24 174.53
C 210.24 174.53 210.24 174.53 210.24 174.53
C 210.24 174.53 210.24 174.53 210.24 174.53
C 210.24 174.53 210.24 174.53 210.24 174.53
C 210.24 174.53 210.24 174.53 210.24 174.53
C 210.24 174.53 210.24 174.53 210.24 174.53
C 210.24 174.53 210.24 174.53 210.24 174.53
C 210.24 174.53 210.24 174.53 210.24 174.53
z
"/>
</clipPath>
<clipPath id="pc23deff0f2">
<rect x="361.8" y="42.12" width="13.31" height="266.11"/>
</clipPath>
</defs>
</svg>

</body></html>
